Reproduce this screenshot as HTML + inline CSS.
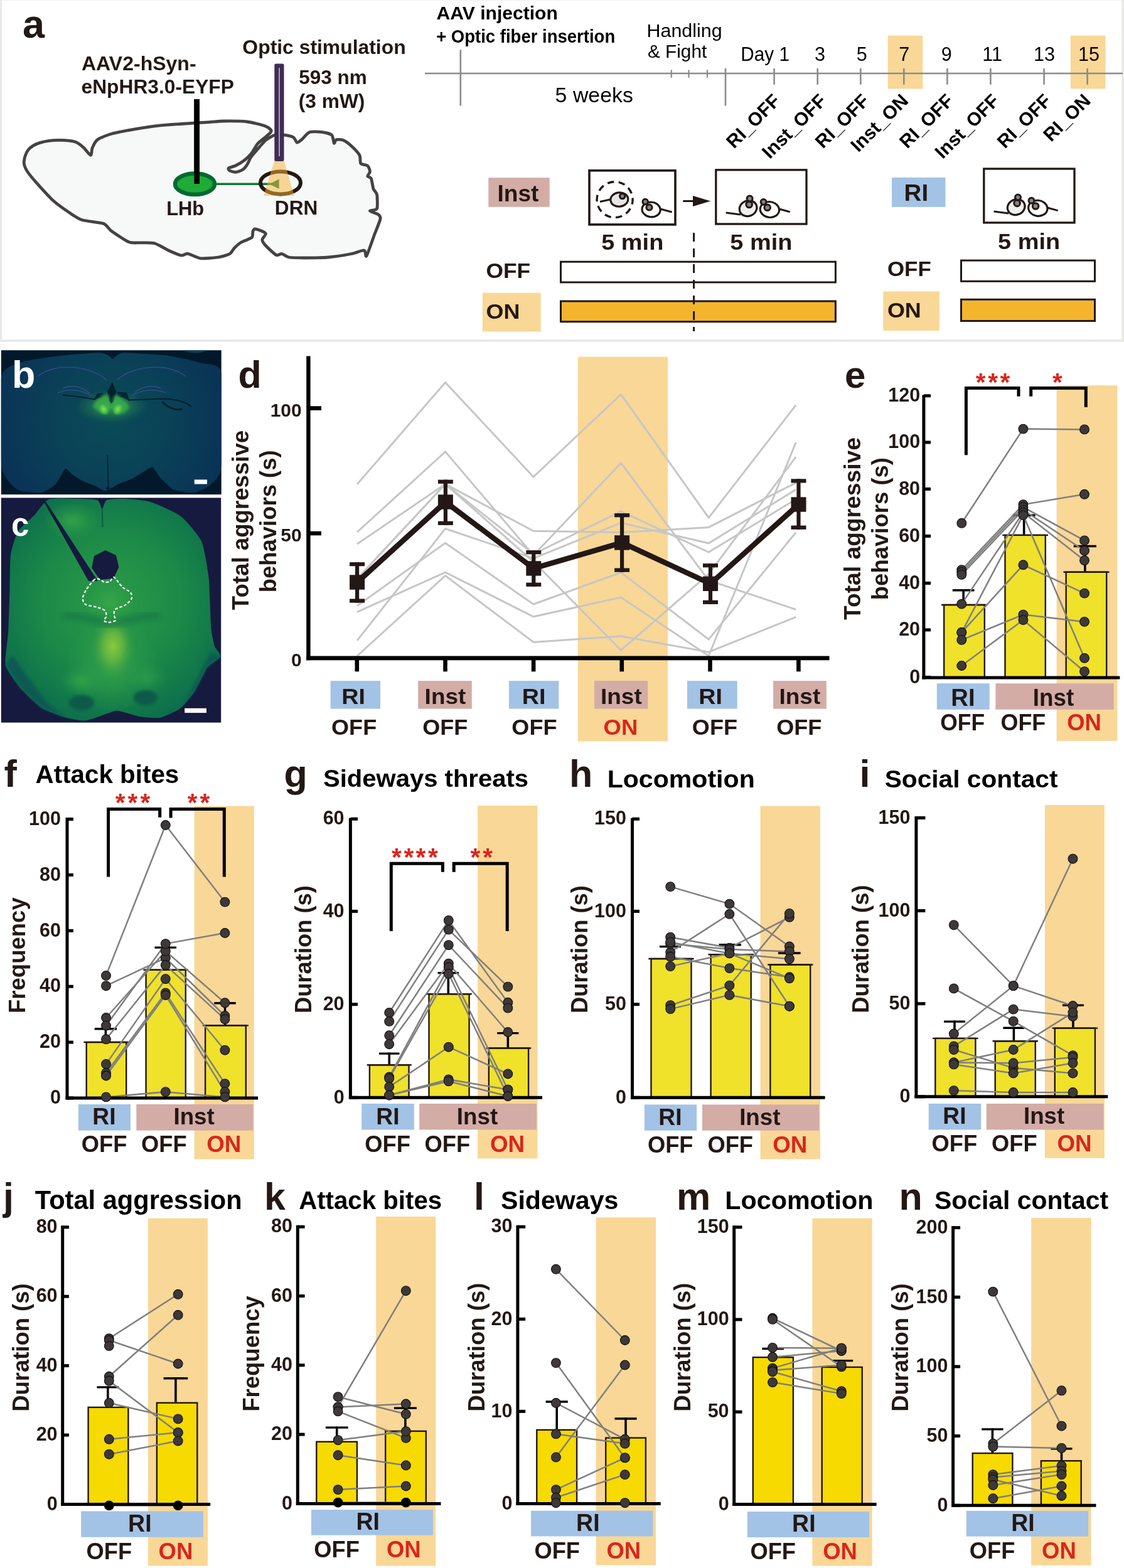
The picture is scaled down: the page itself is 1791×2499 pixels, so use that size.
<!DOCTYPE html>
<html><head><meta charset="utf-8"><title>Figure</title>
<style>html,body{margin:0;padding:0;background:#fff;}svg{display:block;}
text{font-family:"Liberation Sans",Arial,Helvetica,sans-serif;}</style></head>
<body><svg width="1791" height="2499" viewBox="0 0 1791 2499">
<rect x="0" y="0" width="1791" height="1" fill="#efefef"/>
<rect x="0" y="0" width="3" height="544.8" fill="#e8e8e6"/>
<rect x="1787.3" y="0" width="3.7" height="544.8" fill="#e9e9e7"/>
<rect x="0" y="541.2" width="1791" height="3.6" fill="#e8e8e6"/>
<text x="36" y="60" font-size="63" font-weight="bold" fill="#231815">a</text>
<path d="M38.3 257.5 C38.44 255.67 39.44 250.45 40.2 248.3 C40.96 246.15 43.4 240.93 44.8 239.1 C46.2 237.27 50.05 233.94 52.2 232.6 C54.35 231.26 60.19 228.57 63.2 227.6 C66.21 226.63 74.34 224.79 78 224.3 C81.66 223.81 90.73 223.4 94.6 223.4 C98.47 223.4 107.97 223.87 111.2 224.3 C114.43 224.73 119.71 225.81 122.3 227.1 C124.89 228.39 130.81 233.03 133.4 235.4 C135.99 237.77 142.89 247.4 144.5 247.4 C146.11 247.4 145.92 238.31 147.2 235.4 C148.48 232.5 151.94 225.09 155.5 222.5 C159.06 219.91 170.8 215.15 177.7 213.2 C184.59 211.25 205.99 207.31 214.6 205.8 C223.21 204.3 242.88 201.27 251.5 200.3 C260.12 199.33 279.34 198.14 288.5 197.5 C297.66 196.86 322.01 195.33 330 194.8 C337.99 194.28 349.56 193.09 357 193 C364.44 192.91 386.28 193.12 393.8 194 C401.32 194.88 417.08 198.98 421.5 200.5 C425.92 202.02 430.62 205.72 431.7 207 C432.78 208.28 431.77 210.22 430.8 211.5 C429.83 212.78 425.77 215.96 423.4 218 C421.03 220.04 413.09 225.99 410.5 229 C407.91 232.01 403.59 240.77 401.2 243.8 C398.81 246.83 393.01 252.64 390 255 C386.99 257.36 378.4 262.51 375.4 264 C372.4 265.49 365.4 266.87 364.3 267.8 C363.2 268.73 364.7 271.24 366 272 C367.3 272.76 373.01 274.46 375.4 274.3 C377.79 274.14 384.35 272 386.5 270.6 C388.65 269.2 392.3 264.56 393.8 262.3 C395.31 260.04 397.88 253.57 399.4 251.2 C400.92 248.83 404 245.23 406.8 242 C409.6 238.77 419.76 226.63 423.4 223.5 C427.04 220.37 434.55 216.17 438 215.2 C441.45 214.23 449.54 214.76 453 215.2 C456.46 215.64 465.34 217.6 467.7 219 C470.06 220.4 471.69 226.78 473.2 227.2 C474.7 227.62 478.23 224.54 480.6 222.6 C482.97 220.66 489.63 212 493.5 210.6 C497.37 209.2 509.7 210.06 513.8 210.6 C517.89 211.14 526.44 213.15 528.6 215.2 C530.76 217.25 531.44 227.34 532.3 228.2 C533.16 229.06 534.28 223.15 536 222.6 C537.72 222.05 544.2 222.31 547 223.5 C549.8 224.69 556.97 230 560 232.8 C563.03 235.6 571.27 244.27 573 247.5 C574.73 250.73 573.31 258.55 574.8 260.5 C576.29 262.45 584.08 262.69 585.8 264.2 C587.51 265.7 589.5 271.46 589.5 273.4 C589.5 275.34 585.58 279.5 585.8 280.8 C586.02 282.1 590.33 282.14 591.4 284.5 C592.47 286.86 593.93 297.99 595 301 C596.07 304.01 599.95 306.62 600.6 310.3 C601.25 313.98 601.89 329.48 600.6 332.5 C599.31 335.52 589.28 335.13 589.5 336.2 C589.72 337.27 600.58 340.21 602.5 341.7 C604.42 343.19 606.64 345.35 606 349 C605.36 352.65 599.57 366.12 597 373 C594.43 379.88 585.95 404.97 584 408 C582.05 411.03 583.1 399.41 580.3 399 C577.5 398.59 566.68 403.22 560 404.5 C553.32 405.78 531.63 409.24 523 410 C514.37 410.76 493.31 411 486 411 C478.69 411 464.59 410.76 460.3 410 C456.01 409.24 451.57 404.93 449.2 404.5 C446.83 404.07 443.01 407.82 440 406.3 C436.99 404.78 425.99 394.3 423.4 391.5 C420.81 388.7 417.8 384.46 417.8 382.3 C417.8 380.14 423.18 374.5 423.4 373 C423.62 371.5 421.64 370.36 419.7 369.4 C417.76 368.44 408.75 364.91 406.8 364.8 C404.85 364.69 403.65 366.89 403 368.5 C402.35 370.11 403.35 376.56 401.2 378.6 C399.05 380.64 387.83 384.06 384.6 386 C381.37 387.94 375.65 393.04 373.5 395.2 C371.35 397.36 369.21 402.77 366.2 404.5 C363.19 406.23 353.09 409.15 347.7 410 C342.31 410.85 325.62 412.47 320 411.8 C314.38 411.13 303.18 404.86 299.5 404.3 C295.82 403.74 291.94 407.54 288.5 407 C285.06 406.46 274.96 401.95 270 399.7 C265.04 397.45 251.39 389.2 246 387.7 C240.61 386.19 228.54 387.02 223.8 386.8 C219.06 386.58 210.78 387.96 205.4 385.8 C200.02 383.64 182.44 371.74 177.7 368.3 C172.96 364.86 170.19 358.34 164.8 356.3 C159.41 354.26 137.54 352.63 131.5 350.8 C125.46 348.97 118.38 344.16 113 340.6 C107.62 337.04 91.85 326.11 85.4 320.3 C78.95 314.49 62.53 296.2 57.7 290.8 C52.87 285.4 46.18 277.13 44 274 C41.82 270.87 39.66 265.93 39 264 C38.34 262.07 38.16 259.33 38.3 257.5 Z" fill="#f7f8f8" stroke="#454342" stroke-width="4.8" stroke-linejoin="round"/>
<rect x="309.4" y="158" width="8.6" height="135" fill="#000"/>
<ellipse cx="310.5" cy="293.3" rx="31.5" ry="16.8" fill="#1fab37" stroke="#006a30" stroke-width="6.5"/>
<rect x="309.4" y="158" width="8.6" height="135" fill="#000"/>
<line x1="344" y1="293.3" x2="437" y2="293.3" stroke="#0c7a3a" stroke-width="3.6"/>
<path d="M429 293.3 L444.6 285.6 L444.6 301 Z" fill="#0c7a3a" stroke="none" stroke-width="1"/>
<ellipse cx="447" cy="291.4" rx="32" ry="18" fill="none" stroke="#231815" stroke-width="6"/>
<path d="M437.3 256 L452.5 256 L469 312 L420 312 Z" fill="#f5b43c" stroke="none" stroke-width="1" opacity="0.52"/>
<rect x="437.3" y="101.4" width="15.2" height="155.6" rx="2.5" fill="#3f2c56"/>
<line x1="445" y1="108" x2="445" y2="249" stroke="#c3bfc8" stroke-width="1.6"/>
<text x="130.01" y="112.2" font-size="31" font-weight="bold" fill="#231815" textLength="182.55" lengthAdjust="spacingAndGlyphs">AAV2-hSyn-</text>
<text x="129.56" y="148.6" font-size="31" font-weight="bold" fill="#231815" textLength="243.32" lengthAdjust="spacingAndGlyphs">eNpHR3.0-EYFP</text>
<text x="386.39" y="86.2" font-size="31" font-weight="bold" fill="#231815" textLength="260.28" lengthAdjust="spacingAndGlyphs">Optic stimulation</text>
<text x="476.33" y="134.4" font-size="31" font-weight="bold" fill="#231815" textLength="108.42" lengthAdjust="spacingAndGlyphs">593 nm</text>
<text x="475.72" y="172" font-size="31" font-weight="bold" fill="#231815" textLength="105.66" lengthAdjust="spacingAndGlyphs">(3 mW)</text>
<text x="265.13" y="343.4" font-size="32" font-weight="bold" fill="#231815" textLength="60.14" lengthAdjust="spacingAndGlyphs">LHb</text>
<text x="437.89" y="341.7" font-size="31.5" font-weight="bold" fill="#231815" textLength="68.44" lengthAdjust="spacingAndGlyphs">DRN</text>
<rect x="1414.7" y="56.7" width="55.6" height="84.8" fill="#f9d796"/>
<rect x="1705.8" y="56.7" width="55.6" height="84.8" fill="#f9d796"/>
<line x1="677" y1="117" x2="1789" y2="117" stroke="#8a8a8a" stroke-width="2.6"/>
<line x1="733.8" y1="79.4" x2="733.8" y2="168.6" stroke="#8a8a8a" stroke-width="2.6"/>
<line x1="1069.8" y1="111.4" x2="1069.8" y2="123.7" stroke="#8a8a8a" stroke-width="2.2"/>
<line x1="1097.5" y1="111.4" x2="1097.5" y2="123.7" stroke="#8a8a8a" stroke-width="2.2"/>
<line x1="1127" y1="111.4" x2="1127" y2="123.7" stroke="#8a8a8a" stroke-width="2.2"/>
<line x1="1156" y1="109" x2="1156" y2="168.6" stroke="#8a8a8a" stroke-width="2.6"/>
<line x1="1233.6" y1="109" x2="1233.6" y2="134.8" stroke="#8a8a8a" stroke-width="2.6"/>
<line x1="1302.7" y1="109" x2="1302.7" y2="134.8" stroke="#8a8a8a" stroke-width="2.6"/>
<line x1="1371.3" y1="109" x2="1371.3" y2="134.8" stroke="#8a8a8a" stroke-width="2.6"/>
<line x1="1440.3" y1="109" x2="1440.3" y2="134.8" stroke="#8a8a8a" stroke-width="2.6"/>
<line x1="1509.4" y1="109" x2="1509.4" y2="134.8" stroke="#8a8a8a" stroke-width="2.6"/>
<line x1="1578.4" y1="109" x2="1578.4" y2="134.8" stroke="#8a8a8a" stroke-width="2.6"/>
<line x1="1663.6" y1="109" x2="1663.6" y2="134.8" stroke="#8a8a8a" stroke-width="2.6"/>
<line x1="1732.6" y1="109" x2="1732.6" y2="134.8" stroke="#8a8a8a" stroke-width="2.6"/>
<g fill="#000">
<text x="695.56" y="31.4" font-size="28.6" font-weight="bold" fill="#000" textLength="193.28" lengthAdjust="spacingAndGlyphs">AAV injection</text>
<text x="695.14" y="68.3" font-size="28.6" font-weight="bold" fill="#000" textLength="285.06" lengthAdjust="spacingAndGlyphs">+ Optic fiber insertion</text>
</g>
<text x="1030.51" y="59.4" font-size="29" fill="#000" textLength="120.06" lengthAdjust="spacingAndGlyphs">Handling</text>
<text x="1031.95" y="92.3" font-size="29" fill="#000" textLength="94.26" lengthAdjust="spacingAndGlyphs">&amp; Fight</text>
<text x="884.64" y="162.5" font-size="33" fill="#000" textLength="124.28" lengthAdjust="spacingAndGlyphs">5 weeks</text>
<text x="1180.26" y="97.3" font-size="30.5" fill="#000" textLength="77.69" lengthAdjust="spacingAndGlyphs">Day 1</text>
<text x="1306.6" y="97.3" font-size="30.5" fill="#000" text-anchor="middle">3</text>
<text x="1373.3" y="97.3" font-size="30.5" fill="#000" text-anchor="middle">5</text>
<text x="1440.7" y="97.3" font-size="30.5" fill="#000" text-anchor="middle">7</text>
<text x="1508.2" y="97.3" font-size="30.5" fill="#000" text-anchor="middle">9</text>
<text x="1581.2" y="97.3" font-size="30.5" fill="#000" text-anchor="middle">11</text>
<text x="1664" y="97.3" font-size="30.5" fill="#000" text-anchor="middle">13</text>
<text x="1735" y="97.3" font-size="30.5" fill="#000" text-anchor="middle">15</text>
<text x="1245" y="162.5" font-size="30" font-weight="bold" fill="#000" text-anchor="end" transform="rotate(-45 1245 162.5)">RI_OFF</text>
<text x="1318.5" y="162.5" font-size="30" font-weight="bold" fill="#000" text-anchor="end" transform="rotate(-45 1318.5 162.5)">Inst_OFF</text>
<text x="1386.8" y="162.5" font-size="30" font-weight="bold" fill="#000" text-anchor="end" transform="rotate(-45 1386.8 162.5)">RI_OFF</text>
<text x="1449" y="162.5" font-size="30" font-weight="bold" fill="#000" text-anchor="end" transform="rotate(-45 1449 162.5)">Inst_ON</text>
<text x="1521" y="162.5" font-size="30" font-weight="bold" fill="#000" text-anchor="end" transform="rotate(-45 1521 162.5)">RI_OFF</text>
<text x="1594" y="162.5" font-size="30" font-weight="bold" fill="#000" text-anchor="end" transform="rotate(-45 1594 162.5)">Inst_OFF</text>
<text x="1676.7" y="162.5" font-size="30" font-weight="bold" fill="#000" text-anchor="end" transform="rotate(-45 1676.7 162.5)">RI_OFF</text>
<text x="1739.5" y="162.5" font-size="30" font-weight="bold" fill="#000" text-anchor="end" transform="rotate(-45 1739.5 162.5)">RI_ON</text>
<rect x="778.3" y="283.2" width="97.4" height="46.6" fill="#d3aca6"/>
<text x="792.42" y="320.5" font-size="37.8" font-weight="bold" fill="#231815" textLength="66.04" lengthAdjust="spacingAndGlyphs">Inst</text>
<rect x="1421" y="282.9" width="85.5" height="47" fill="#a2c3e5"/>
<text x="1440.62" y="319.8" font-size="36" font-weight="bold" fill="#231815" textLength="38.56" lengthAdjust="spacingAndGlyphs">RI</text>
<rect x="939" y="271.8" width="137" height="86.1" fill="#fff" stroke="#231815" stroke-width="3.6"/>
<circle cx="979.6" cy="318.2" r="28.5" fill="none" stroke="#231815" stroke-width="3.4" stroke-dasharray="10.5 7.4" stroke-dashoffset="3"/>
<line x1="956" y1="321.5" x2="972" y2="318" stroke="#231815" stroke-width="3"/>
<ellipse cx="986.8" cy="318" rx="14" ry="11.2" fill="#e6e6e6" stroke="#231815" stroke-width="3.2" transform="rotate(-6 986.8 318)"/>
<circle cx="991.7" cy="312.6" r="4.2" fill="#858585" stroke="#231815" stroke-width="3"/>
<line x1="1052" y1="333" x2="1070.6" y2="338" stroke="#231815" stroke-width="3"/>
<ellipse cx="1037.6" cy="334" rx="14.6" ry="11.8" fill="#fff" stroke="#231815" stroke-width="3.2" transform="rotate(6 1037.6 334)"/>
<circle cx="1028.2" cy="321.5" r="4.2" fill="#858585" stroke="#231815" stroke-width="3"/>
<circle cx="1034.5" cy="330.5" r="4.6" fill="#858585" stroke="#231815" stroke-width="3"/>
<line x1="1088.3" y1="320.5" x2="1108" y2="320.5" stroke="#231815" stroke-width="3"/>
<path d="M1132.2 320.5 L1104 312 L1104 329 Z" fill="#231815" stroke="none" stroke-width="1"/>
<rect x="1140.8" y="270.8" width="144.2" height="86.2" fill="#fff" stroke="#231815" stroke-width="3.3"/>
<line x1="1156.7" y1="339.1" x2="1180" y2="342" stroke="#231815" stroke-width="3"/>
<ellipse cx="1192.1" cy="332.1" rx="14.1" ry="12.2" fill="#eef0ef" stroke="#231815" stroke-width="3.2" transform="rotate(-22 1192.1 332.1)"/>
<circle cx="1194.6" cy="316.6" r="4.5" fill="#858585" stroke="#231815" stroke-width="3"/>
<circle cx="1193.7" cy="326" r="4.8" fill="#858585" stroke="#231815" stroke-width="3"/>
<line x1="1241.5" y1="333" x2="1258.7" y2="337.7" stroke="#231815" stroke-width="3"/>
<ellipse cx="1226.4" cy="334" rx="15.2" ry="12.4" fill="#fff" stroke="#231815" stroke-width="3.2" transform="rotate(8 1226.4 334)"/>
<circle cx="1216.6" cy="321.8" r="4.4" fill="#858585" stroke="#231815" stroke-width="3"/>
<circle cx="1222.7" cy="330.7" r="4.8" fill="#858585" stroke="#231815" stroke-width="3"/>
<rect x="1567.8" y="269" width="144.2" height="85.9" fill="#fff" stroke="#231815" stroke-width="3.3"/>
<line x1="1583.6" y1="337" x2="1607" y2="340" stroke="#231815" stroke-width="3"/>
<ellipse cx="1619.2" cy="330" rx="14.1" ry="12.2" fill="#eef0ef" stroke="#231815" stroke-width="3.2" transform="rotate(-22 1619.2 330)"/>
<circle cx="1622" cy="314.5" r="4.5" fill="#858585" stroke="#231815" stroke-width="3"/>
<circle cx="1620.6" cy="323.9" r="4.8" fill="#858585" stroke="#231815" stroke-width="3"/>
<line x1="1669" y1="331" x2="1685.6" y2="335.6" stroke="#231815" stroke-width="3"/>
<ellipse cx="1653.8" cy="331.8" rx="15.2" ry="12.4" fill="#fff" stroke="#231815" stroke-width="3.2" transform="rotate(8 1653.8 331.8)"/>
<circle cx="1643.5" cy="319.7" r="4.4" fill="#858585" stroke="#231815" stroke-width="3"/>
<circle cx="1650.1" cy="328.5" r="4.8" fill="#858585" stroke="#231815" stroke-width="3"/>
<text x="958.23" y="397.9" font-size="35" font-weight="bold" fill="#231815" textLength="99.12" lengthAdjust="spacingAndGlyphs">5 min</text>
<text x="1163.33" y="397.9" font-size="35" font-weight="bold" fill="#231815" textLength="99.22" lengthAdjust="spacingAndGlyphs">5 min</text>
<text x="1590.03" y="396.7" font-size="35" font-weight="bold" fill="#231815" textLength="99.12" lengthAdjust="spacingAndGlyphs">5 min</text>
<text x="774.55" y="442.8" font-size="33.5" font-weight="bold" fill="#231815" textLength="70.64" lengthAdjust="spacingAndGlyphs">OFF</text>
<rect x="768.9" y="466.7" width="92.8" height="61.8" fill="#f9d796"/>
<text x="774.53" y="507.8" font-size="33.5" font-weight="bold" fill="#231815" textLength="53.89" lengthAdjust="spacingAndGlyphs">ON</text>
<rect x="893.5" y="417.2" width="437.9" height="32.7" fill="#fff" stroke="#231815" stroke-width="3"/>
<rect x="893.5" y="480" width="437.9" height="32.7" fill="#f4b52d" stroke="#231815" stroke-width="3"/>
<text x="1413.97" y="440.2" font-size="33.5" font-weight="bold" fill="#231815" textLength="69.71" lengthAdjust="spacingAndGlyphs">OFF</text>
<rect x="1407.3" y="464.5" width="89.5" height="62.5" fill="#f9d796"/>
<text x="1413.93" y="506" font-size="33.5" font-weight="bold" fill="#231815" textLength="53.89" lengthAdjust="spacingAndGlyphs">ON</text>
<rect x="1531.5" y="415.1" width="213" height="33.2" fill="#fff" stroke="#231815" stroke-width="3"/>
<rect x="1531.5" y="477.3" width="213" height="34.2" fill="#f4b52d" stroke="#231815" stroke-width="3"/>
<line x1="1105.6" y1="371" x2="1105.6" y2="528" stroke="#231815" stroke-width="3" stroke-dasharray="14 11"/>
<defs>
<filter id="blur2" x="-20%" y="-20%" width="140%" height="140%"><feGaussianBlur stdDeviation="2"/></filter>
<filter id="blur4" x="-30%" y="-30%" width="160%" height="160%"><feGaussianBlur stdDeviation="4"/></filter>
<filter id="blur8" x="-40%" y="-40%" width="180%" height="180%"><feGaussianBlur stdDeviation="8"/></filter>
<clipPath id="clipb"><rect x="1.8" y="558.2" width="350.9" height="229.9"/></clipPath>
<clipPath id="clipc"><rect x="1.8" y="793.4" width="350.4" height="358.2"/></clipPath>
<radialGradient id="gb2" cx="178" cy="670" r="190" gradientUnits="userSpaceOnUse">
<stop offset="0" stop-color="#0b4b57"/><stop offset="0.55" stop-color="#0a4057"/><stop offset="1" stop-color="#0a3256"/></radialGradient>
<radialGradient id="gbglow" cx="178" cy="648" r="60" gradientUnits="userSpaceOnUse" gradientTransform="translate(178 648) scale(1 0.45) translate(-178 -648)">
<stop offset="0" stop-color="#3fb04a" stop-opacity="0.9"/><stop offset="0.5" stop-color="#2a8a4e" stop-opacity="0.55"/><stop offset="1" stop-color="#1a6a55" stop-opacity="0"/></radialGradient>
<radialGradient id="gblobe" cx="0.5" cy="0.6" r="0.5">
<stop offset="0" stop-color="#7ae64a"/><stop offset="0.5" stop-color="#52c84a" stop-opacity="0.85"/><stop offset="1" stop-color="#2a9a4e" stop-opacity="0"/></radialGradient>
<radialGradient id="gc2" cx="178" cy="960" r="200" gradientUnits="userSpaceOnUse">
<stop offset="0" stop-color="#2c9c46"/><stop offset="0.55" stop-color="#1c8a48"/><stop offset="1" stop-color="#0c6e4c"/></radialGradient>
<radialGradient id="gc1" cx="0.5" cy="0.5" r="0.5">
<stop offset="0" stop-color="#90cc3c"/><stop offset="0.45" stop-color="#6ab840" stop-opacity="0.8"/><stop offset="1" stop-color="#2a9646" stop-opacity="0"/></radialGradient>
<radialGradient id="gc3" cx="0.5" cy="0.5" r="0.5">
<stop offset="0" stop-color="#3aa84a" stop-opacity="0.9"/><stop offset="1" stop-color="#2a9a48" stop-opacity="0"/></radialGradient>
</defs>
<rect x="1.8" y="558.2" width="350.9" height="229.9" fill="#03192b"/>
<g clip-path="url(#clipb)">
<path d="M1.8 601 C4.92 584.77 24.32 581.03 33 577.7 C41.68 574.37 76.4 569.25 88.6 567.7 C100.8 566.15 146.66 562.37 155 562.2 C163.34 562.03 169.56 565.02 172 566 C174.44 566.98 177.9 572 179.4 572 C180.9 572 185 566.98 187 566 C189 565.02 191.52 562.14 199.4 562.2 C207.28 562.26 253.62 564.94 265.8 566.6 C277.98 568.26 312.51 576.03 321.2 578.8 C329.89 581.57 349.55 577.91 352.7 594.3 C355.85 610.69 354.3 724.98 352.7 742.7 C351.1 760.42 340.96 767.29 336.7 771.5 C332.44 775.71 316.08 783.91 310.1 784.8 C304.12 785.69 282.43 782.83 276.9 780.4 C271.37 777.97 258.12 764.04 254.8 760.5 C251.48 756.96 245.92 746.11 243.7 745 C241.48 743.89 235.92 747.63 232.6 749.4 C229.28 751.17 214.93 760.49 210.5 762.7 C206.07 764.91 192.51 769.51 188.3 771.5 C184.09 773.49 171.73 782.15 168.4 782.6 C165.07 783.05 158.55 777.55 155 776 C151.45 774.45 136.88 769.1 132.9 767.1 C128.92 765.1 118.08 757.99 115.2 756 C112.32 754.01 106.76 745.65 104.1 747.2 C101.44 748.75 92.36 767.74 88.6 771.5 C84.84 775.26 72.04 783.69 66.5 784.8 C60.96 785.91 38.08 783.93 33.2 782.6 C28.32 781.27 20.84 775.76 17.7 771.5 C14.56 767.24 3.39 757.05 1.8 740 C0.21 722.95 -1.32 617.23 1.8 601 Z" fill="url(#gb2)"/>
<path d="M292 558.2 C300 563 322 564 330 558.2 Z" fill="#0b4256"/>
<path d="M100 618.7 C115 612 132 617 142.3 626.6" fill="none" stroke="#3d4f96" stroke-width="1.6" opacity="0.75"/>
<path d="M92 626 C112 618 130 622 146 630" fill="none" stroke="#3d4f96" stroke-width="1.6" opacity="0.75"/>
<path d="M256 618.7 C241 612 224 617 213.7 626.6" fill="none" stroke="#3d4f96" stroke-width="1.6" opacity="0.75"/>
<path d="M264 626 C244 618 226 622 210 630" fill="none" stroke="#3d4f96" stroke-width="1.6" opacity="0.75"/>
<path d="M60 600 C90 575 150 585 170 606" fill="none" stroke="#3d4f96" stroke-width="1.6" opacity="0.75"/>
<path d="M296 600 C266 575 206 585 186 606" fill="none" stroke="#3d4f96" stroke-width="1.6" opacity="0.75"/>
<ellipse cx="178" cy="648" rx="64" ry="30" fill="url(#gbglow)" filter="url(#blur2)"/>
<path d="M170.9 624.6 L178.8 608.9 L185.7 624.6 L181 640 L176.8 643.3 L174 638 Z" fill="#04202c"/>
<path d="M149 637.4 L155 627.6 L168 625.6 L171 631 L160 634 Z" fill="#052030" opacity="0.9"/>
<path d="M207 638.4 L202 625.6 L187 624.6 L185 631 L196 634 Z" fill="#052030" opacity="0.9"/>
<path d="M100 629.5 C120 631 135 634 152 636.4" fill="none" stroke="#04202e" stroke-width="2"/>
<path d="M204 637.4 C225 637 245 636 262 635.4 C280 636 295 640 305 648" fill="none" stroke="#04202e" stroke-width="2"/>
<path d="M258 640 C268 650 280 655 290 652" fill="none" stroke="#04202e" stroke-width="3"/>
<path d="M152 640 L168 626 L174 632 L176 648 L172 659 L160 658 L148 648 Z" fill="#3fb44a" opacity="0.75" filter="url(#blur2)"/>
<path d="M202 642 L186 628 L180 634 L179 648 L184 660 L196 659 L206 650 Z" fill="#3fb44a" opacity="0.75" filter="url(#blur2)"/>
<ellipse cx="164" cy="650" rx="9" ry="12" fill="url(#gblobe)" transform="rotate(-30 164 650)"/>
<ellipse cx="189" cy="650" rx="9" ry="12" fill="url(#gblobe)" transform="rotate(30 189 650)"/>
<path d="M170.5 725 L172 780 L173.5 780 L172 725 Z" fill="#061f30"/>
<circle cx="172" cy="778" r="3" fill="#061f30"/>
</g>
<rect x="309.7" y="764.4" width="20.3" height="7.1" fill="#fff"/>
<text x="19" y="617.6" font-size="61" font-weight="bold" fill="#fff">b</text>
<rect x="1.8" y="793.4" width="350.4" height="358.2" fill="#161a3e"/>
<g clip-path="url(#clipc)">
<path d="M77.5 796 C83.96 793.46 112.25 794.9 120 795 C127.75 795.1 150.72 795.34 155 797 C159.28 798.66 161.3 811.6 162.8 811.6 C164.3 811.6 166.28 798.66 170 797 C173.72 795.34 193 794.7 200 795 C207 795.3 231.2 797.23 240 800 C248.8 802.77 279.9 816.45 288 822.7 C296.1 828.95 316.57 852.97 321 862.5 C325.43 872.03 330.95 908.25 332.3 918 C333.65 927.75 334.06 951.37 334.5 960 C334.94 968.63 335.95 997.3 336.7 1004.3 C337.45 1011.3 340.56 1025.79 342 1030 C343.44 1034.21 352.3 1042.99 351.1 1046.4 C349.9 1049.81 334.1 1058.56 330 1064.1 C325.9 1069.64 314.3 1095.37 310.1 1101.8 C305.9 1108.23 293.53 1124.19 288 1128.4 C282.47 1132.61 261.45 1142.57 254.8 1143.9 C248.15 1145.23 228.15 1142.81 221.5 1141.7 C214.85 1140.59 192.73 1133.47 188.3 1132.8 C183.87 1132.13 182.29 1133.45 177.2 1135 C172.11 1136.55 144.49 1147.41 137.4 1148.3 C130.31 1149.19 113.39 1145.89 106.3 1143.9 C99.21 1141.91 73.81 1133.06 66.5 1128.4 C59.19 1123.74 38.96 1104.17 33.2 1097.3 C27.44 1090.43 10.89 1068.78 8.9 1059.7 C6.91 1050.62 12.64 1018.47 13.3 1006.5 C13.96 994.53 15.13 952.18 15.5 940 C15.87 927.82 15.67 894 17 884.7 C18.33 875.4 24.96 853.43 28.8 847 C32.64 840.57 50.53 825.5 55.4 820.4 C60.27 815.3 71.04 798.54 77.5 796 Z" fill="url(#gc2)"/>
<path d="M8.9 1059.7 L20 1045 L45 1080 L75 1120 L106 1144 L66.5 1128.4 L33.2 1097.3 Z" fill="#0c5a52" filter="url(#blur2)"/>
<path d="M351 1046 L335 1040 L318 1075 L295 1118 L288 1128 L310 1102 L330 1064 Z" fill="#0c5a52" filter="url(#blur2)"/>
<ellipse cx="115" cy="830" rx="45" ry="30" fill="url(#gc3)" filter="url(#blur4)"/>
<ellipse cx="176" cy="960" rx="40" ry="35" fill="url(#gc3)" filter="url(#blur4)"/>
<ellipse cx="130" cy="1085" rx="35" ry="25" fill="url(#gc3)" filter="url(#blur4)"/>
<ellipse cx="235" cy="1080" rx="35" ry="25" fill="url(#gc3)" filter="url(#blur4)" opacity="0.7"/>
<ellipse cx="178" cy="1060" rx="75" ry="80" fill="url(#gc3)" filter="url(#blur4)"/>
<ellipse cx="180" cy="1030" rx="36" ry="52" fill="url(#gc1)" filter="url(#blur2)"/>
<path d="M100 980 C135 983 160 990 176 996 C195 990 220 983 255 980" fill="none" stroke="#0f6a48" stroke-width="13" opacity="0.45" filter="url(#blur4)"/>
<ellipse cx="130" cy="1120" rx="20" ry="12" fill="#0b5a48" filter="url(#blur2)"/>
<ellipse cx="232" cy="1112" rx="19" ry="12" fill="#0b5a48" filter="url(#blur2)"/>
<path d="M70 800 L73.5 800 L156 926 L141 926 Z" fill="#161a3e" stroke="none" stroke-width="1"/>
<path d="M168 877 L185 885 L189.4 904 L181 922 L159 924 L146.2 905 L150 886 Z" fill="#161a3e" stroke="none" stroke-width="1"/>
<path d="M162.8 811.6 L163.5 840" stroke="#0d5a48" stroke-width="2"/>
</g>
<path d="M150.6 923.5 C147.65 925.7 139.91 936.01 137.4 940 C134.89 943.99 131.96 950.29 131.8 953.4 C131.64 956.51 133.11 961.38 136.2 963.3 C139.29 965.22 150.85 966.47 155 967.8 C159.15 969.13 165.37 971.38 167.3 973.3 C169.23 975.22 169.71 980.13 169.5 982.2 C169.29 984.27 165.26 987.48 165.7 988.8 C166.14 990.12 170.37 992.1 172.8 992.1 C175.23 992.1 182.71 990.41 183.9 988.8 C185.09 987.19 181.7 982.37 181.7 980 C181.7 977.63 181.54 973.08 183.9 971 C186.26 968.92 196 966.6 199.4 964.4 C202.8 962.2 208.23 957.15 209.4 954.5 C210.57 951.85 210.12 947.02 208.2 944.5 C206.28 941.98 198.53 938.85 195 935.6 C191.47 932.35 184.37 921.27 181.7 920.1 C179.03 918.93 177.07 925.76 175 926.8 C172.93 927.84 168.27 928.34 166.2 927.9 C164.13 927.46 161.58 924.09 159.5 923.5 C157.42 922.91 153.55 921.3 150.6 923.5 Z" fill="none" stroke="#fff" stroke-width="2.2" stroke-dasharray="4.5 3"/>
<rect x="294.2" y="1128.8" width="34.8" height="7.3" fill="#fff"/>
<text x="18" y="853.7" font-size="51" font-weight="bold" fill="#fff">c</text>
<rect x="920.8" y="568.6" width="143.2" height="612.8" fill="#f9d796"/>
<text x="379.5" y="617.8" font-size="61" font-weight="bold" fill="#231815">d</text>
<g fill="none" stroke="#c6c6c6" stroke-width="3" stroke-linejoin="miter">
<polyline points="569,771.8 709.6,609.4 850,760 989.5,628.4 1129.2,825.2 1268.2,645.6"/>
<polyline points="569,848.1 709.6,719.9 850,885 989.5,738 1129.2,925 1268.2,971.3"/>
<polyline points="569,867.1 709.6,771.6 850,846.2 989.5,848.5 1129.2,840.4 1268.2,769.4"/>
<polyline points="569,922.5 709.6,771.6 850,883 989.5,815 1129.2,880 1268.2,795.8"/>
<polyline points="569,965.5 709.6,865.4 850,963 989.5,912.4 1129.2,1019 1268.2,848.5"/>
<polyline points="569,975.4 709.6,912.1 850,982.8 989.5,952 1129.2,1045.3 1268.2,705.1"/>
<polyline points="569,1020.9 709.6,842.5 850,890 989.5,833.3 1129.2,865.8 1268.2,780.2"/>
<polyline points="569,1045.5 709.6,917.5 850,1023.4 989.5,1013.9 1129.2,1039.2 1268.2,983.4"/>
<polyline points="569,922.5 709.6,771.6 850,895 989.5,1036.2 1129.2,915 1268.2,728.2"/>
</g>
<line x1="491.4" y1="567.4" x2="491.4" y2="1052.3" stroke="#000" stroke-width="6.4"/>
<line x1="488.2" y1="1048.9" x2="1321.5" y2="1048.9" stroke="#000" stroke-width="6.7"/>
<line x1="494" y1="650.6" x2="512" y2="650.6" stroke="#000" stroke-width="6.6"/>
<line x1="494" y1="850" x2="512" y2="850" stroke="#000" stroke-width="6.6"/>
<line x1="568.8" y1="1050" x2="568.8" y2="1070.3" stroke="#000" stroke-width="6.6"/>
<line x1="709.5" y1="1050" x2="709.5" y2="1070.3" stroke="#000" stroke-width="6.6"/>
<line x1="850.1" y1="1050" x2="850.1" y2="1070.3" stroke="#000" stroke-width="6.6"/>
<line x1="990.8" y1="1050" x2="990.8" y2="1070.3" stroke="#000" stroke-width="6.6"/>
<line x1="1131.5" y1="1050" x2="1131.5" y2="1070.3" stroke="#000" stroke-width="6.6"/>
<line x1="1272.4" y1="1050" x2="1272.4" y2="1070.3" stroke="#000" stroke-width="6.6"/>
<text x="480.7" y="663.6" font-size="30" font-weight="bold" fill="#231815" text-anchor="end">100</text>
<text x="480.7" y="863.2" font-size="30" font-weight="bold" fill="#231815" text-anchor="end">50</text>
<text x="480.7" y="1061.5" font-size="30" font-weight="bold" fill="#231815" text-anchor="end">0</text>
<text x="396" y="972.21" font-size="37.5" font-weight="bold" fill="#231815" textLength="286.45" lengthAdjust="spacingAndGlyphs" transform="rotate(-90 396 972.21)">Total aggressive</text>
<text x="439.7" y="944.2" font-size="37.5" font-weight="bold" fill="#231815" textLength="226.82" lengthAdjust="spacingAndGlyphs" transform="rotate(-90 439.7 944.2)">behaviors (s)</text>
<polyline points="569.1,928 709.9,800 850.3,905.9 991.1,864.9 1132,930.3 1272.5,804" fill="none" stroke="#231815" stroke-width="8.5" stroke-linejoin="miter"/>
<line x1="569.1" y1="896.1" x2="569.1" y2="960.6" stroke="#231815" stroke-width="6.2"/>
<rect x="557.1" y="896.1" width="24" height="6.2" fill="#231815"/>
<rect x="557.1" y="954.4" width="24" height="6.2" fill="#231815"/>
<rect x="557.1" y="916.3" width="24" height="23.4" fill="#231815"/>
<line x1="709.9" y1="764.6" x2="709.9" y2="836.9" stroke="#231815" stroke-width="6.2"/>
<rect x="697.9" y="764.6" width="24" height="6.2" fill="#231815"/>
<rect x="697.9" y="830.7" width="24" height="6.2" fill="#231815"/>
<rect x="697.9" y="788.3" width="24" height="23.4" fill="#231815"/>
<line x1="850.3" y1="877.1" x2="850.3" y2="934.8" stroke="#231815" stroke-width="6.2"/>
<rect x="838.3" y="877.1" width="24" height="6.2" fill="#231815"/>
<rect x="838.3" y="928.6" width="24" height="6.2" fill="#231815"/>
<rect x="838.3" y="894.2" width="24" height="23.4" fill="#231815"/>
<line x1="991.1" y1="818.1" x2="991.1" y2="911.7" stroke="#231815" stroke-width="6.2"/>
<rect x="979.1" y="818.1" width="24" height="6.2" fill="#231815"/>
<rect x="979.1" y="905.5" width="24" height="6.2" fill="#231815"/>
<rect x="979.1" y="853.2" width="24" height="23.4" fill="#231815"/>
<line x1="1132" y1="898.1" x2="1132" y2="962.9" stroke="#231815" stroke-width="6.2"/>
<rect x="1120" y="898.1" width="24" height="6.2" fill="#231815"/>
<rect x="1120" y="956.7" width="24" height="6.2" fill="#231815"/>
<rect x="1120" y="918.6" width="24" height="23.4" fill="#231815"/>
<line x1="1272.5" y1="763.3" x2="1272.5" y2="843.8" stroke="#231815" stroke-width="6.2"/>
<rect x="1260.5" y="763.3" width="24" height="6.2" fill="#231815"/>
<rect x="1260.5" y="837.6" width="24" height="6.2" fill="#231815"/>
<rect x="1260.5" y="792.3" width="24" height="23.4" fill="#231815"/>
<rect x="526.6" y="1085.1" width="79.4" height="44.5" fill="#a2c3e5"/>
<rect x="666.2" y="1085.1" width="85.6" height="44.5" fill="#d3aca6"/>
<rect x="810.9" y="1085.1" width="79.4" height="44.5" fill="#a2c3e5"/>
<rect x="947.1" y="1085.1" width="85.2" height="44.5" fill="#d3aca6"/>
<rect x="1095" y="1085.1" width="79.7" height="44.5" fill="#a2c3e5"/>
<rect x="1232.1" y="1085.1" width="84.7" height="44.5" fill="#d3aca6"/>
<text x="544.37" y="1121.5" font-size="35" font-weight="bold" fill="#231815" textLength="37.75" lengthAdjust="spacingAndGlyphs">RI</text>
<text x="676.63" y="1121.5" font-size="35" font-weight="bold" fill="#231815" textLength="65.72" lengthAdjust="spacingAndGlyphs">Inst</text>
<text x="831.67" y="1121.5" font-size="35" font-weight="bold" fill="#231815" textLength="37.75" lengthAdjust="spacingAndGlyphs">RI</text>
<text x="957.03" y="1121.5" font-size="35" font-weight="bold" fill="#231815" textLength="65.72" lengthAdjust="spacingAndGlyphs">Inst</text>
<text x="1113.17" y="1121.5" font-size="35" font-weight="bold" fill="#231815" textLength="37.75" lengthAdjust="spacingAndGlyphs">RI</text>
<text x="1241.53" y="1121.5" font-size="35" font-weight="bold" fill="#231815" textLength="65.72" lengthAdjust="spacingAndGlyphs">Inst</text>
<text x="528.02" y="1171.3" font-size="35" font-weight="bold" fill="#231815" textLength="72.2" lengthAdjust="spacingAndGlyphs">OFF</text>
<text x="673.22" y="1171.3" font-size="35" font-weight="bold" fill="#231815" textLength="72.2" lengthAdjust="spacingAndGlyphs">OFF</text>
<text x="815.32" y="1171.3" font-size="35" font-weight="bold" fill="#231815" textLength="72.2" lengthAdjust="spacingAndGlyphs">OFF</text>
<text x="961.5" y="1171.3" font-size="35" font-weight="bold" fill="#d9261c" textLength="54.76" lengthAdjust="spacingAndGlyphs">ON</text>
<text x="1102.82" y="1171.3" font-size="35" font-weight="bold" fill="#231815" textLength="72.2" lengthAdjust="spacingAndGlyphs">OFF</text>
<text x="1237.22" y="1171.3" font-size="35" font-weight="bold" fill="#231815" textLength="72.2" lengthAdjust="spacingAndGlyphs">OFF</text>
<rect x="1683.6" y="614.2" width="96.7" height="566.6" fill="#f9d796"/>
<text x="1346" y="618.3" font-size="60" font-weight="bold" fill="#231815">e</text>
<rect x="1504.2" y="964" width="64.6" height="115.9" fill="#f0e12b" stroke="#231815" stroke-width="2.4"/>
<line x1="1500" y1="964" x2="1573" y2="964" stroke="#231815" stroke-width="2.4"/>
<rect x="1601.5" y="852.9" width="64.3" height="227" fill="#f0e12b" stroke="#231815" stroke-width="2.4"/>
<line x1="1597.3" y1="852.9" x2="1670" y2="852.9" stroke="#231815" stroke-width="2.4"/>
<rect x="1698.7" y="911.8" width="64.5" height="168.1" fill="#f0e12b" stroke="#231815" stroke-width="2.4"/>
<line x1="1694.5" y1="911.8" x2="1767.4" y2="911.8" stroke="#231815" stroke-width="2.4"/>
<line x1="1535.15" y1="962.8" x2="1535.15" y2="939.2" stroke="#000" stroke-width="3.6"/>
<line x1="1517.8" y1="940.8" x2="1552.5" y2="940.8" stroke="#000" stroke-width="3.4"/>
<line x1="1631.65" y1="851.7" x2="1631.65" y2="819.7" stroke="#000" stroke-width="3.6"/>
<line x1="1613.6" y1="821.3" x2="1649.7" y2="821.3" stroke="#000" stroke-width="3.4"/>
<line x1="1728.85" y1="910.6" x2="1728.85" y2="868.9" stroke="#000" stroke-width="3.6"/>
<line x1="1710.8" y1="870.5" x2="1746.9" y2="870.5" stroke="#000" stroke-width="3.4"/>
<g fill="none" stroke="#7f7f7f" stroke-width="2.5">
<polyline points="1532.3,833.8 1630.4,683.6 1728,684.4"/>
<polyline points="1532.3,908.1 1630.4,804.1 1728,787.8"/>
<polyline points="1532.3,912 1630.4,808.3 1728,861.4"/>
<polyline points="1532.3,915.9 1630.4,812.6 1728,877.7"/>
<polyline points="1532.3,962.6 1630.4,816.8 1728,893.2"/>
<polyline points="1532.3,1007.9 1630.4,821 1728,1048.9"/>
<polyline points="1532.3,1007.9 1630.4,900.3 1728,945.6"/>
<polyline points="1532.3,1019.9 1630.4,979.6 1728,990.9"/>
<polyline points="1532.3,1061 1630.4,988.1 1728,1070.2"/>
</g>
<line x1="1471.9" y1="629.4" x2="1471.9" y2="1082.4" stroke="#000" stroke-width="5"/>
<line x1="1469.4" y1="1079.9" x2="1784.4" y2="1079.9" stroke="#000" stroke-width="5"/>
<line x1="1471.9" y1="630.8" x2="1483" y2="630.8" stroke="#000" stroke-width="5"/>
<text x="1466.1" y="640" font-size="30.5" font-weight="bold" fill="#231815" text-anchor="end">120</text>
<line x1="1471.9" y1="705" x2="1483" y2="705" stroke="#000" stroke-width="5"/>
<text x="1466.1" y="714.2" font-size="30.5" font-weight="bold" fill="#231815" text-anchor="end">100</text>
<line x1="1471.9" y1="779.4" x2="1483" y2="779.4" stroke="#000" stroke-width="5"/>
<text x="1466.1" y="788.6" font-size="30.5" font-weight="bold" fill="#231815" text-anchor="end">80</text>
<line x1="1471.9" y1="854.4" x2="1483" y2="854.4" stroke="#000" stroke-width="5"/>
<text x="1466.1" y="863.6" font-size="30.5" font-weight="bold" fill="#231815" text-anchor="end">60</text>
<line x1="1471.9" y1="929.4" x2="1483" y2="929.4" stroke="#000" stroke-width="5"/>
<text x="1466.1" y="938.6" font-size="30.5" font-weight="bold" fill="#231815" text-anchor="end">40</text>
<line x1="1471.9" y1="1003.9" x2="1483" y2="1003.9" stroke="#000" stroke-width="5"/>
<text x="1466.1" y="1013.1" font-size="30.5" font-weight="bold" fill="#231815" text-anchor="end">20</text>
<line x1="1471.9" y1="1079.4" x2="1483" y2="1079.4" stroke="#000" stroke-width="5"/>
<text x="1466.1" y="1088.6" font-size="30.5" font-weight="bold" fill="#231815" text-anchor="end">0</text>
<circle cx="1532.3" cy="833.8" r="7.4" fill="#3e3839" stroke="#111" stroke-width="1.1"/>
<circle cx="1630.4" cy="683.6" r="7.4" fill="#3e3839" stroke="#111" stroke-width="1.1"/>
<circle cx="1728" cy="684.4" r="7.4" fill="#3e3839" stroke="#111" stroke-width="1.1"/>
<circle cx="1532.3" cy="908.1" r="7.4" fill="#3e3839" stroke="#111" stroke-width="1.1"/>
<circle cx="1630.4" cy="804.1" r="7.4" fill="#3e3839" stroke="#111" stroke-width="1.1"/>
<circle cx="1728" cy="787.8" r="7.4" fill="#3e3839" stroke="#111" stroke-width="1.1"/>
<circle cx="1532.3" cy="912" r="7.4" fill="#3e3839" stroke="#111" stroke-width="1.1"/>
<circle cx="1630.4" cy="808.3" r="7.4" fill="#3e3839" stroke="#111" stroke-width="1.1"/>
<circle cx="1728" cy="861.4" r="7.4" fill="#3e3839" stroke="#111" stroke-width="1.1"/>
<circle cx="1532.3" cy="915.9" r="7.4" fill="#3e3839" stroke="#111" stroke-width="1.1"/>
<circle cx="1630.4" cy="812.6" r="7.4" fill="#3e3839" stroke="#111" stroke-width="1.1"/>
<circle cx="1728" cy="877.7" r="7.4" fill="#3e3839" stroke="#111" stroke-width="1.1"/>
<circle cx="1532.3" cy="962.6" r="7.4" fill="#3e3839" stroke="#111" stroke-width="1.1"/>
<circle cx="1630.4" cy="816.8" r="7.4" fill="#3e3839" stroke="#111" stroke-width="1.1"/>
<circle cx="1728" cy="893.2" r="7.4" fill="#3e3839" stroke="#111" stroke-width="1.1"/>
<circle cx="1532.3" cy="1007.9" r="7.4" fill="#3e3839" stroke="#111" stroke-width="1.1"/>
<circle cx="1630.4" cy="821" r="7.4" fill="#3e3839" stroke="#111" stroke-width="1.1"/>
<circle cx="1728" cy="1048.9" r="7.4" fill="#3e3839" stroke="#111" stroke-width="1.1"/>
<circle cx="1532.3" cy="1007.9" r="7.4" fill="#3e3839" stroke="#111" stroke-width="1.1"/>
<circle cx="1630.4" cy="900.3" r="7.4" fill="#3e3839" stroke="#111" stroke-width="1.1"/>
<circle cx="1728" cy="945.6" r="7.4" fill="#3e3839" stroke="#111" stroke-width="1.1"/>
<circle cx="1532.3" cy="1019.9" r="7.4" fill="#3e3839" stroke="#111" stroke-width="1.1"/>
<circle cx="1630.4" cy="979.6" r="7.4" fill="#3e3839" stroke="#111" stroke-width="1.1"/>
<circle cx="1728" cy="990.9" r="7.4" fill="#3e3839" stroke="#111" stroke-width="1.1"/>
<circle cx="1532.3" cy="1061" r="7.4" fill="#3e3839" stroke="#111" stroke-width="1.1"/>
<circle cx="1630.4" cy="988.1" r="7.4" fill="#3e3839" stroke="#111" stroke-width="1.1"/>
<circle cx="1728" cy="1070.2" r="7.4" fill="#3e3839" stroke="#111" stroke-width="1.1"/>
<path d="M1539.4 725.3 L1539.4 618.4 L1623 618.4 L1623 631.8" fill="none" stroke="#000" stroke-width="5" stroke-linejoin="miter"/>
<path d="M1642.7 631.8 L1642.7 618.4 L1730.3 618.4 L1730.3 648.9" fill="none" stroke="#000" stroke-width="5" stroke-linejoin="miter"/>
<text x="1562.7" y="622.7" font-size="40.5" font-weight="bold" fill="#d9261c" text-anchor="middle">*</text>
<text x="1582.1" y="622.7" font-size="40.5" font-weight="bold" fill="#d9261c" text-anchor="middle">*</text>
<text x="1601.5" y="622.7" font-size="40.5" font-weight="bold" fill="#d9261c" text-anchor="middle">*</text>
<text x="1684.8" y="622.7" font-size="40.5" font-weight="bold" fill="#d9261c" text-anchor="middle">*</text>
<text x="1371.3" y="988.01" font-size="37.5" font-weight="bold" fill="#231815" textLength="290.97" lengthAdjust="spacingAndGlyphs" transform="rotate(-90 1371.3 988.01)">Total aggressive</text>
<text x="1415.5" y="956.21" font-size="37.5" font-weight="bold" fill="#231815" textLength="227.22" lengthAdjust="spacingAndGlyphs" transform="rotate(-90 1415.5 956.21)">behaviors (s)</text>
<rect x="1492.8" y="1089.2" width="83.9" height="41.6" fill="#a2c3e5"/>
<rect x="1586.4" y="1089.2" width="188.3" height="41.6" fill="#d3aca6"/>
<text x="1515.24" y="1125.3" font-size="38" font-weight="bold" fill="#231815" textLength="38.33" lengthAdjust="spacingAndGlyphs">RI</text>
<text x="1645.84" y="1125.3" font-size="38" font-weight="bold" fill="#231815" textLength="65.41" lengthAdjust="spacingAndGlyphs">Inst</text>
<text x="1498.25" y="1164.2" font-size="37" font-weight="bold" fill="#231815" textLength="70.85" lengthAdjust="spacingAndGlyphs">OFF</text>
<text x="1594.53" y="1164.2" font-size="37" font-weight="bold" fill="#231815" textLength="71.79" lengthAdjust="spacingAndGlyphs">OFF</text>
<text x="1700.2" y="1164.2" font-size="37" font-weight="bold" fill="#d9261c" textLength="54.76" lengthAdjust="spacingAndGlyphs">ON</text>
<rect x="309.7" y="1284.6" width="95.1" height="562.8" fill="#f9d796"/>
<text x="6.5" y="1253.5" font-size="61" font-weight="bold" fill="#231815">f</text>
<text x="56.6" y="1248.2" font-size="40.5" font-weight="bold" fill="#000" textLength="228.66" lengthAdjust="spacingAndGlyphs">Attack bites</text>
<rect x="137.7" y="1661" width="63.5" height="89" fill="#f0e12b" stroke="#231815" stroke-width="2.4"/>
<line x1="133.5" y1="1661" x2="205.4" y2="1661" stroke="#231815" stroke-width="2.4"/>
<rect x="232.6" y="1545.8" width="63.2" height="204.2" fill="#f0e12b" stroke="#231815" stroke-width="2.4"/>
<line x1="228.4" y1="1545.8" x2="300" y2="1545.8" stroke="#231815" stroke-width="2.4"/>
<rect x="327.1" y="1634.4" width="64.7" height="115.6" fill="#f0e12b" stroke="#231815" stroke-width="2.4"/>
<line x1="322.9" y1="1634.4" x2="396" y2="1634.4" stroke="#231815" stroke-width="2.4"/>
<line x1="168.4" y1="1659.8" x2="168.4" y2="1638.2" stroke="#000" stroke-width="3.6"/>
<line x1="150.7" y1="1639.8" x2="186.1" y2="1639.8" stroke="#000" stroke-width="3.4"/>
<line x1="263.75" y1="1544.6" x2="263.75" y2="1508.5" stroke="#000" stroke-width="3.6"/>
<line x1="246.5" y1="1510.1" x2="281" y2="1510.1" stroke="#000" stroke-width="3.4"/>
<line x1="358.55" y1="1633.2" x2="358.55" y2="1597.2" stroke="#000" stroke-width="3.6"/>
<line x1="341.3" y1="1598.8" x2="375.8" y2="1598.8" stroke="#000" stroke-width="3.4"/>
<g fill="none" stroke="#7f7f7f" stroke-width="2.5">
<polyline points="169,1554.9 263.8,1315 358.4,1437.6"/>
<polyline points="169,1571.2 263.8,1526.8 358.4,1619"/>
<polyline points="169,1622 263.8,1515.9 358.4,1598.3"/>
<polyline points="169,1634.7 263.8,1504.1 358.4,1487"/>
<polyline points="169,1656.3 263.8,1538 358.4,1624.3"/>
<polyline points="169,1695.9 263.8,1560.2 358.4,1673.7"/>
<polyline points="169,1710 263.8,1582.4 358.4,1727.2"/>
<polyline points="169,1714.5 263.8,1586 358.4,1740.2"/>
<polyline points="169,1748.4 263.8,1740.2 358.4,1748.4"/>
</g>
<line x1="107" y1="1303" x2="107" y2="1752.5" stroke="#000" stroke-width="5"/>
<line x1="104.5" y1="1750" x2="411.1" y2="1750" stroke="#000" stroke-width="5"/>
<line x1="107" y1="1305.5" x2="116.9" y2="1305.5" stroke="#000" stroke-width="5"/>
<text x="96.9" y="1314.7" font-size="30.5" font-weight="bold" fill="#231815" text-anchor="end">100</text>
<line x1="107" y1="1394.4" x2="116.9" y2="1394.4" stroke="#000" stroke-width="5"/>
<text x="96.9" y="1403.6" font-size="30.5" font-weight="bold" fill="#231815" text-anchor="end">80</text>
<line x1="107" y1="1483.3" x2="116.9" y2="1483.3" stroke="#000" stroke-width="5"/>
<text x="96.9" y="1492.5" font-size="30.5" font-weight="bold" fill="#231815" text-anchor="end">60</text>
<line x1="107" y1="1572.2" x2="116.9" y2="1572.2" stroke="#000" stroke-width="5"/>
<text x="96.9" y="1581.4" font-size="30.5" font-weight="bold" fill="#231815" text-anchor="end">40</text>
<line x1="107" y1="1661.1" x2="116.9" y2="1661.1" stroke="#000" stroke-width="5"/>
<text x="96.9" y="1670.3" font-size="30.5" font-weight="bold" fill="#231815" text-anchor="end">20</text>
<line x1="107" y1="1750" x2="116.9" y2="1750" stroke="#000" stroke-width="5"/>
<text x="96.9" y="1759.2" font-size="30.5" font-weight="bold" fill="#231815" text-anchor="end">0</text>
<circle cx="169" cy="1554.9" r="7.4" fill="#3e3839" stroke="#111" stroke-width="1.1"/>
<circle cx="263.8" cy="1315" r="7.4" fill="#3e3839" stroke="#111" stroke-width="1.1"/>
<circle cx="358.4" cy="1437.6" r="7.4" fill="#3e3839" stroke="#111" stroke-width="1.1"/>
<circle cx="169" cy="1571.2" r="7.4" fill="#3e3839" stroke="#111" stroke-width="1.1"/>
<circle cx="263.8" cy="1526.8" r="7.4" fill="#3e3839" stroke="#111" stroke-width="1.1"/>
<circle cx="358.4" cy="1619" r="7.4" fill="#3e3839" stroke="#111" stroke-width="1.1"/>
<circle cx="169" cy="1622" r="7.4" fill="#3e3839" stroke="#111" stroke-width="1.1"/>
<circle cx="263.8" cy="1515.9" r="7.4" fill="#3e3839" stroke="#111" stroke-width="1.1"/>
<circle cx="358.4" cy="1598.3" r="7.4" fill="#3e3839" stroke="#111" stroke-width="1.1"/>
<circle cx="169" cy="1634.7" r="7.4" fill="#3e3839" stroke="#111" stroke-width="1.1"/>
<circle cx="263.8" cy="1504.1" r="7.4" fill="#3e3839" stroke="#111" stroke-width="1.1"/>
<circle cx="358.4" cy="1487" r="7.4" fill="#3e3839" stroke="#111" stroke-width="1.1"/>
<circle cx="169" cy="1656.3" r="7.4" fill="#3e3839" stroke="#111" stroke-width="1.1"/>
<circle cx="263.8" cy="1538" r="7.4" fill="#3e3839" stroke="#111" stroke-width="1.1"/>
<circle cx="358.4" cy="1624.3" r="7.4" fill="#3e3839" stroke="#111" stroke-width="1.1"/>
<circle cx="169" cy="1695.9" r="7.4" fill="#3e3839" stroke="#111" stroke-width="1.1"/>
<circle cx="263.8" cy="1560.2" r="7.4" fill="#3e3839" stroke="#111" stroke-width="1.1"/>
<circle cx="358.4" cy="1673.7" r="7.4" fill="#3e3839" stroke="#111" stroke-width="1.1"/>
<circle cx="169" cy="1710" r="7.4" fill="#3e3839" stroke="#111" stroke-width="1.1"/>
<circle cx="263.8" cy="1582.4" r="7.4" fill="#3e3839" stroke="#111" stroke-width="1.1"/>
<circle cx="358.4" cy="1727.2" r="7.4" fill="#3e3839" stroke="#111" stroke-width="1.1"/>
<circle cx="169" cy="1714.5" r="7.4" fill="#3e3839" stroke="#111" stroke-width="1.1"/>
<circle cx="263.8" cy="1586" r="7.4" fill="#3e3839" stroke="#111" stroke-width="1.1"/>
<circle cx="358.4" cy="1740.2" r="7.4" fill="#3e3839" stroke="#111" stroke-width="1.1"/>
<circle cx="169" cy="1748.4" r="7.4" fill="#3e3839" stroke="#111" stroke-width="1.1"/>
<circle cx="263.8" cy="1740.2" r="7.4" fill="#3e3839" stroke="#111" stroke-width="1.1"/>
<circle cx="358.4" cy="1748.4" r="7.4" fill="#3e3839" stroke="#111" stroke-width="1.1"/>
<path d="M172.6 1397.6 L172.6 1289.4 L254.7 1289.4 L254.7 1302.8" fill="none" stroke="#000" stroke-width="5" stroke-linejoin="miter"/>
<path d="M272.1 1303.5 L272.1 1289.4 L357.3 1289.4 L357.3 1397.6" fill="none" stroke="#000" stroke-width="5" stroke-linejoin="miter"/>
<text x="191.7" y="1293.4" font-size="40.5" font-weight="bold" fill="#d9261c" text-anchor="middle">*</text>
<text x="211.4" y="1293.4" font-size="40.5" font-weight="bold" fill="#d9261c" text-anchor="middle">*</text>
<text x="231.3" y="1293.4" font-size="40.5" font-weight="bold" fill="#d9261c" text-anchor="middle">*</text>
<text x="306.7" y="1293.4" font-size="40.5" font-weight="bold" fill="#d9261c" text-anchor="middle">*</text>
<text x="326.4" y="1293.4" font-size="40.5" font-weight="bold" fill="#d9261c" text-anchor="middle">*</text>
<text x="40" y="1614.94" font-size="37" font-weight="bold" fill="#231815" textLength="184.64" lengthAdjust="spacingAndGlyphs" transform="rotate(-90 40 1614.94)">Frequency</text>
<rect x="124.9" y="1760" width="83.1" height="41.7" fill="#a2c3e5"/>
<rect x="217.3" y="1760" width="186.1" height="41.7" fill="#d3aca6"/>
<text x="147.21" y="1791.7" font-size="37" font-weight="bold" fill="#231815" textLength="37.29" lengthAdjust="spacingAndGlyphs">RI</text>
<text x="276.44" y="1791.7" font-size="37" font-weight="bold" fill="#231815" textLength="65.31" lengthAdjust="spacingAndGlyphs">Inst</text>
<text x="129.81" y="1835.7" font-size="37.8" font-weight="bold" fill="#231815" textLength="72.62" lengthAdjust="spacingAndGlyphs">OFF</text>
<text x="225.11" y="1835.7" font-size="37.8" font-weight="bold" fill="#231815" textLength="72.62" lengthAdjust="spacingAndGlyphs">OFF</text>
<text x="329.19" y="1835.7" font-size="37.8" font-weight="bold" fill="#d9261c" textLength="55.19" lengthAdjust="spacingAndGlyphs">ON</text>
<rect x="761.1" y="1284" width="95.3" height="562.4" fill="#f9d796"/>
<text x="452.5" y="1254" font-size="61" font-weight="bold" fill="#231815">g</text>
<text x="515.05" y="1254.4" font-size="39" font-weight="bold" fill="#000" textLength="326.99" lengthAdjust="spacingAndGlyphs">Sideways threats</text>
<rect x="588.9" y="1697.3" width="62.6" height="52" fill="#f0e12b" stroke="#231815" stroke-width="2.4"/>
<line x1="584.7" y1="1697.3" x2="655.7" y2="1697.3" stroke="#231815" stroke-width="2.4"/>
<rect x="683.5" y="1584.2" width="64.1" height="165.1" fill="#f0e12b" stroke="#231815" stroke-width="2.4"/>
<line x1="679.3" y1="1584.2" x2="751.8" y2="1584.2" stroke="#231815" stroke-width="2.4"/>
<rect x="778.9" y="1670.5" width="63.2" height="78.8" fill="#f0e12b" stroke="#231815" stroke-width="2.4"/>
<line x1="774.7" y1="1670.5" x2="846.3" y2="1670.5" stroke="#231815" stroke-width="2.4"/>
<line x1="620.25" y1="1696.1" x2="620.25" y2="1677.5" stroke="#000" stroke-width="3.6"/>
<line x1="604" y1="1679.1" x2="636.5" y2="1679.1" stroke="#000" stroke-width="3.4"/>
<line x1="714.3" y1="1583" x2="714.3" y2="1549" stroke="#000" stroke-width="3.6"/>
<line x1="697.6" y1="1550.6" x2="731" y2="1550.6" stroke="#000" stroke-width="3.4"/>
<line x1="809.35" y1="1669.3" x2="809.35" y2="1645" stroke="#000" stroke-width="3.6"/>
<line x1="792.2" y1="1646.6" x2="826.5" y2="1646.6" stroke="#000" stroke-width="3.4"/>
<g fill="none" stroke="#7f7f7f" stroke-width="2.5">
<polyline points="620.2,1614 714.8,1466.9 809.3,1597.8"/>
<polyline points="620.2,1627.9 714.8,1481.6 809.3,1572.6"/>
<polyline points="620.2,1650.3 714.8,1506.2 809.3,1606.6"/>
<polyline points="620.2,1664.2 714.8,1535.7 809.3,1645"/>
<polyline points="620.2,1716.5 714.8,1541.6 809.3,1736.6"/>
<polyline points="620.2,1718.9 714.8,1552 809.3,1747"/>
<polyline points="620.2,1732.2 714.8,1668.7 809.3,1711.5"/>
<polyline points="620.2,1745.5 714.8,1720.4 809.3,1736.6"/>
<polyline points="620.2,1745.5 714.8,1723.3 809.3,1747"/>
</g>
<line x1="558.4" y1="1303.8" x2="558.4" y2="1751.8" stroke="#000" stroke-width="5"/>
<line x1="555.9" y1="1749.3" x2="864" y2="1749.3" stroke="#000" stroke-width="5"/>
<line x1="558.4" y1="1305.2" x2="570" y2="1305.2" stroke="#000" stroke-width="5"/>
<text x="548.6" y="1314.4" font-size="30.5" font-weight="bold" fill="#231815" text-anchor="end">60</text>
<line x1="558.4" y1="1452.4" x2="570" y2="1452.4" stroke="#000" stroke-width="5"/>
<text x="548.6" y="1461.6" font-size="30.5" font-weight="bold" fill="#231815" text-anchor="end">40</text>
<line x1="558.4" y1="1600.7" x2="570" y2="1600.7" stroke="#000" stroke-width="5"/>
<text x="548.6" y="1609.9" font-size="30.5" font-weight="bold" fill="#231815" text-anchor="end">20</text>
<line x1="558.4" y1="1749.3" x2="570" y2="1749.3" stroke="#000" stroke-width="5"/>
<text x="548.6" y="1758.5" font-size="30.5" font-weight="bold" fill="#231815" text-anchor="end">0</text>
<circle cx="620.2" cy="1614" r="7.4" fill="#3e3839" stroke="#111" stroke-width="1.1"/>
<circle cx="714.8" cy="1466.9" r="7.4" fill="#3e3839" stroke="#111" stroke-width="1.1"/>
<circle cx="809.3" cy="1597.8" r="7.4" fill="#3e3839" stroke="#111" stroke-width="1.1"/>
<circle cx="620.2" cy="1627.9" r="7.4" fill="#3e3839" stroke="#111" stroke-width="1.1"/>
<circle cx="714.8" cy="1481.6" r="7.4" fill="#3e3839" stroke="#111" stroke-width="1.1"/>
<circle cx="809.3" cy="1572.6" r="7.4" fill="#3e3839" stroke="#111" stroke-width="1.1"/>
<circle cx="620.2" cy="1650.3" r="7.4" fill="#3e3839" stroke="#111" stroke-width="1.1"/>
<circle cx="714.8" cy="1506.2" r="7.4" fill="#3e3839" stroke="#111" stroke-width="1.1"/>
<circle cx="809.3" cy="1606.6" r="7.4" fill="#3e3839" stroke="#111" stroke-width="1.1"/>
<circle cx="620.2" cy="1664.2" r="7.4" fill="#3e3839" stroke="#111" stroke-width="1.1"/>
<circle cx="714.8" cy="1535.7" r="7.4" fill="#3e3839" stroke="#111" stroke-width="1.1"/>
<circle cx="809.3" cy="1645" r="7.4" fill="#3e3839" stroke="#111" stroke-width="1.1"/>
<circle cx="620.2" cy="1716.5" r="7.4" fill="#3e3839" stroke="#111" stroke-width="1.1"/>
<circle cx="714.8" cy="1541.6" r="7.4" fill="#3e3839" stroke="#111" stroke-width="1.1"/>
<circle cx="809.3" cy="1736.6" r="7.4" fill="#3e3839" stroke="#111" stroke-width="1.1"/>
<circle cx="620.2" cy="1718.9" r="7.4" fill="#3e3839" stroke="#111" stroke-width="1.1"/>
<circle cx="714.8" cy="1552" r="7.4" fill="#3e3839" stroke="#111" stroke-width="1.1"/>
<circle cx="809.3" cy="1747" r="7.4" fill="#3e3839" stroke="#111" stroke-width="1.1"/>
<circle cx="620.2" cy="1732.2" r="7.4" fill="#3e3839" stroke="#111" stroke-width="1.1"/>
<circle cx="714.8" cy="1668.7" r="7.4" fill="#3e3839" stroke="#111" stroke-width="1.1"/>
<circle cx="809.3" cy="1711.5" r="7.4" fill="#3e3839" stroke="#111" stroke-width="1.1"/>
<circle cx="620.2" cy="1745.5" r="7.4" fill="#3e3839" stroke="#111" stroke-width="1.1"/>
<circle cx="714.8" cy="1720.4" r="7.4" fill="#3e3839" stroke="#111" stroke-width="1.1"/>
<circle cx="809.3" cy="1736.6" r="7.4" fill="#3e3839" stroke="#111" stroke-width="1.1"/>
<circle cx="620.2" cy="1745.5" r="7.4" fill="#3e3839" stroke="#111" stroke-width="1.1"/>
<circle cx="714.8" cy="1723.3" r="7.4" fill="#3e3839" stroke="#111" stroke-width="1.1"/>
<circle cx="809.3" cy="1747" r="7.4" fill="#3e3839" stroke="#111" stroke-width="1.1"/>
<path d="M623.3 1484 L623.3 1376.2 L705.4 1376.2 L705.4 1389.8" fill="none" stroke="#000" stroke-width="5" stroke-linejoin="miter"/>
<path d="M723.2 1389.8 L723.2 1376.2 L808.2 1376.2 L808.2 1484" fill="none" stroke="#000" stroke-width="5" stroke-linejoin="miter"/>
<text x="632" y="1380.4" font-size="40.5" font-weight="bold" fill="#d9261c" text-anchor="middle">*</text>
<text x="651.4" y="1380.4" font-size="40.5" font-weight="bold" fill="#d9261c" text-anchor="middle">*</text>
<text x="670.5" y="1380.4" font-size="40.5" font-weight="bold" fill="#d9261c" text-anchor="middle">*</text>
<text x="689.9" y="1380.4" font-size="40.5" font-weight="bold" fill="#d9261c" text-anchor="middle">*</text>
<text x="757.3" y="1380.4" font-size="40.5" font-weight="bold" fill="#d9261c" text-anchor="middle">*</text>
<text x="777.1" y="1380.4" font-size="40.5" font-weight="bold" fill="#d9261c" text-anchor="middle">*</text>
<text x="496.1" y="1614.93" font-size="37" font-weight="bold" fill="#231815" textLength="203.74" lengthAdjust="spacingAndGlyphs" transform="rotate(-90 496.1 1614.93)">Duration (s)</text>
<rect x="576.2" y="1758.9" width="83.6" height="41.6" fill="#a2c3e5"/>
<rect x="668.2" y="1758.9" width="186.8" height="41.6" fill="#d3aca6"/>
<text x="599.31" y="1791.6" font-size="37" font-weight="bold" fill="#231815" textLength="37.29" lengthAdjust="spacingAndGlyphs">RI</text>
<text x="727.84" y="1791.6" font-size="37" font-weight="bold" fill="#231815" textLength="65.31" lengthAdjust="spacingAndGlyphs">Inst</text>
<text x="581.31" y="1835.9" font-size="37.8" font-weight="bold" fill="#231815" textLength="72.62" lengthAdjust="spacingAndGlyphs">OFF</text>
<text x="676.51" y="1835.9" font-size="37.8" font-weight="bold" fill="#231815" textLength="72.62" lengthAdjust="spacingAndGlyphs">OFF</text>
<text x="780.89" y="1835.9" font-size="37.8" font-weight="bold" fill="#d9261c" textLength="55.19" lengthAdjust="spacingAndGlyphs">ON</text>
<rect x="1211.5" y="1284.6" width="95.4" height="562.8" fill="#f9d796"/>
<text x="907" y="1253.5" font-size="61" font-weight="bold" fill="#231815">h</text>
<text x="967.65" y="1255" font-size="39" font-weight="bold" fill="#000" textLength="235.1" lengthAdjust="spacingAndGlyphs">Locomotion</text>
<rect x="1037.5" y="1528" width="64" height="221.3" fill="#f0e12b" stroke="#231815" stroke-width="2.4"/>
<line x1="1033.3" y1="1528" x2="1105.7" y2="1528" stroke="#231815" stroke-width="2.4"/>
<rect x="1132.6" y="1521.2" width="64.1" height="228.1" fill="#f0e12b" stroke="#231815" stroke-width="2.4"/>
<line x1="1128.4" y1="1521.2" x2="1200.9" y2="1521.2" stroke="#231815" stroke-width="2.4"/>
<rect x="1227.4" y="1537.5" width="63.8" height="211.8" fill="#f0e12b" stroke="#231815" stroke-width="2.4"/>
<line x1="1223.2" y1="1537.5" x2="1295.4" y2="1537.5" stroke="#231815" stroke-width="2.4"/>
<line x1="1068" y1="1526.8" x2="1068" y2="1507" stroke="#000" stroke-width="3.6"/>
<line x1="1051" y1="1508.6" x2="1085" y2="1508.6" stroke="#000" stroke-width="3.4"/>
<line x1="1163.3" y1="1520" x2="1163.3" y2="1504.1" stroke="#000" stroke-width="3.6"/>
<line x1="1145.6" y1="1505.7" x2="1181" y2="1505.7" stroke="#000" stroke-width="3.4"/>
<line x1="1257.8" y1="1536.3" x2="1257.8" y2="1517.4" stroke="#000" stroke-width="3.6"/>
<line x1="1240" y1="1519" x2="1275.6" y2="1519" stroke="#000" stroke-width="3.4"/>
<g fill="none" stroke="#7f7f7f" stroke-width="2.5">
<polyline points="1068.2,1413.1 1162.4,1440.6 1257.9,1508.5"/>
<polyline points="1068.2,1493.7 1162.4,1510.6 1257.9,1461.8"/>
<polyline points="1068.2,1517.4 1162.4,1456.8 1257.9,1603.7"/>
<polyline points="1068.2,1504.1 1162.4,1513 1257.9,1516.5"/>
<polyline points="1068.2,1501.7 1162.4,1519.4 1257.9,1528.3"/>
<polyline points="1068.2,1524.8 1162.4,1543.1 1257.9,1557.3"/>
<polyline points="1068.2,1540.1 1162.4,1519.4 1257.9,1559.3"/>
<polyline points="1068.2,1602.2 1162.4,1570.6 1257.9,1455.9"/>
<polyline points="1068.2,1608.1 1162.4,1585.9 1257.9,1603.7"/>
</g>
<line x1="1007.5" y1="1303.8" x2="1007.5" y2="1751.8" stroke="#000" stroke-width="5"/>
<line x1="1005" y1="1749.3" x2="1314.6" y2="1749.3" stroke="#000" stroke-width="5"/>
<line x1="1007.5" y1="1305.2" x2="1019" y2="1305.2" stroke="#000" stroke-width="5"/>
<text x="997.9" y="1314.4" font-size="30.5" font-weight="bold" fill="#231815" text-anchor="end">150</text>
<line x1="1007.5" y1="1452.4" x2="1019" y2="1452.4" stroke="#000" stroke-width="5"/>
<text x="997.9" y="1461.6" font-size="30.5" font-weight="bold" fill="#231815" text-anchor="end">100</text>
<line x1="1007.5" y1="1600.7" x2="1019" y2="1600.7" stroke="#000" stroke-width="5"/>
<text x="997.9" y="1609.9" font-size="30.5" font-weight="bold" fill="#231815" text-anchor="end">50</text>
<line x1="1007.5" y1="1749.3" x2="1019" y2="1749.3" stroke="#000" stroke-width="5"/>
<text x="997.9" y="1758.5" font-size="30.5" font-weight="bold" fill="#231815" text-anchor="end">0</text>
<circle cx="1068.2" cy="1413.1" r="7.4" fill="#3e3839" stroke="#111" stroke-width="1.1"/>
<circle cx="1162.4" cy="1440.6" r="7.4" fill="#3e3839" stroke="#111" stroke-width="1.1"/>
<circle cx="1257.9" cy="1508.5" r="7.4" fill="#3e3839" stroke="#111" stroke-width="1.1"/>
<circle cx="1068.2" cy="1493.7" r="7.4" fill="#3e3839" stroke="#111" stroke-width="1.1"/>
<circle cx="1162.4" cy="1510.6" r="7.4" fill="#3e3839" stroke="#111" stroke-width="1.1"/>
<circle cx="1257.9" cy="1461.8" r="7.4" fill="#3e3839" stroke="#111" stroke-width="1.1"/>
<circle cx="1068.2" cy="1517.4" r="7.4" fill="#3e3839" stroke="#111" stroke-width="1.1"/>
<circle cx="1162.4" cy="1456.8" r="7.4" fill="#3e3839" stroke="#111" stroke-width="1.1"/>
<circle cx="1257.9" cy="1603.7" r="7.4" fill="#3e3839" stroke="#111" stroke-width="1.1"/>
<circle cx="1068.2" cy="1504.1" r="7.4" fill="#3e3839" stroke="#111" stroke-width="1.1"/>
<circle cx="1162.4" cy="1513" r="7.4" fill="#3e3839" stroke="#111" stroke-width="1.1"/>
<circle cx="1257.9" cy="1516.5" r="7.4" fill="#3e3839" stroke="#111" stroke-width="1.1"/>
<circle cx="1068.2" cy="1501.7" r="7.4" fill="#3e3839" stroke="#111" stroke-width="1.1"/>
<circle cx="1162.4" cy="1519.4" r="7.4" fill="#3e3839" stroke="#111" stroke-width="1.1"/>
<circle cx="1257.9" cy="1528.3" r="7.4" fill="#3e3839" stroke="#111" stroke-width="1.1"/>
<circle cx="1068.2" cy="1524.8" r="7.4" fill="#3e3839" stroke="#111" stroke-width="1.1"/>
<circle cx="1162.4" cy="1543.1" r="7.4" fill="#3e3839" stroke="#111" stroke-width="1.1"/>
<circle cx="1257.9" cy="1557.3" r="7.4" fill="#3e3839" stroke="#111" stroke-width="1.1"/>
<circle cx="1068.2" cy="1540.1" r="7.4" fill="#3e3839" stroke="#111" stroke-width="1.1"/>
<circle cx="1162.4" cy="1519.4" r="7.4" fill="#3e3839" stroke="#111" stroke-width="1.1"/>
<circle cx="1257.9" cy="1559.3" r="7.4" fill="#3e3839" stroke="#111" stroke-width="1.1"/>
<circle cx="1068.2" cy="1602.2" r="7.4" fill="#3e3839" stroke="#111" stroke-width="1.1"/>
<circle cx="1162.4" cy="1570.6" r="7.4" fill="#3e3839" stroke="#111" stroke-width="1.1"/>
<circle cx="1257.9" cy="1455.9" r="7.4" fill="#3e3839" stroke="#111" stroke-width="1.1"/>
<circle cx="1068.2" cy="1608.1" r="7.4" fill="#3e3839" stroke="#111" stroke-width="1.1"/>
<circle cx="1162.4" cy="1585.9" r="7.4" fill="#3e3839" stroke="#111" stroke-width="1.1"/>
<circle cx="1257.9" cy="1603.7" r="7.4" fill="#3e3839" stroke="#111" stroke-width="1.1"/>
<text x="936" y="1614.93" font-size="37" font-weight="bold" fill="#231815" textLength="203.74" lengthAdjust="spacingAndGlyphs" transform="rotate(-90 936 1614.93)">Duration (s)</text>
<rect x="1026.8" y="1760.4" width="83.3" height="41.4" fill="#a2c3e5"/>
<rect x="1119" y="1760.4" width="186.2" height="41.4" fill="#d3aca6"/>
<text x="1049.31" y="1792.8" font-size="37" font-weight="bold" fill="#231815" textLength="37.29" lengthAdjust="spacingAndGlyphs">RI</text>
<text x="1178.14" y="1792.8" font-size="37" font-weight="bold" fill="#231815" textLength="65.31" lengthAdjust="spacingAndGlyphs">Inst</text>
<text x="1031.91" y="1836.8" font-size="37.8" font-weight="bold" fill="#231815" textLength="72.62" lengthAdjust="spacingAndGlyphs">OFF</text>
<text x="1127.41" y="1836.8" font-size="37.8" font-weight="bold" fill="#231815" textLength="72.62" lengthAdjust="spacingAndGlyphs">OFF</text>
<text x="1231.19" y="1836.8" font-size="37.8" font-weight="bold" fill="#d9261c" textLength="55.19" lengthAdjust="spacingAndGlyphs">ON</text>
<rect x="1664.9" y="1283" width="95.1" height="562.7" fill="#f9d796"/>
<text x="1369.5" y="1253.5" font-size="61" font-weight="bold" fill="#231815">i</text>
<text x="1409.73" y="1255" font-size="39" font-weight="bold" fill="#000" textLength="275.77" lengthAdjust="spacingAndGlyphs">Social contact</text>
<rect x="1490.3" y="1654.9" width="64.1" height="92.9" fill="#f0e12b" stroke="#231815" stroke-width="2.4"/>
<line x1="1486.1" y1="1654.9" x2="1558.6" y2="1654.9" stroke="#231815" stroke-width="2.4"/>
<rect x="1585.7" y="1659.3" width="64.1" height="88.5" fill="#f0e12b" stroke="#231815" stroke-width="2.4"/>
<line x1="1581.5" y1="1659.3" x2="1654" y2="1659.3" stroke="#231815" stroke-width="2.4"/>
<rect x="1680.8" y="1638.6" width="64.1" height="109.2" fill="#f0e12b" stroke="#231815" stroke-width="2.4"/>
<line x1="1676.6" y1="1638.6" x2="1749.1" y2="1638.6" stroke="#231815" stroke-width="2.4"/>
<line x1="1521" y1="1653.7" x2="1521" y2="1626.5" stroke="#000" stroke-width="3.6"/>
<line x1="1504" y1="1628.1" x2="1538" y2="1628.1" stroke="#000" stroke-width="3.4"/>
<line x1="1615.4" y1="1658.1" x2="1615.4" y2="1636.6" stroke="#000" stroke-width="3.6"/>
<line x1="1598.4" y1="1638.2" x2="1632.4" y2="1638.2" stroke="#000" stroke-width="3.4"/>
<line x1="1709.95" y1="1637.4" x2="1709.95" y2="1600.5" stroke="#000" stroke-width="3.6"/>
<line x1="1693" y1="1602.1" x2="1726.9" y2="1602.1" stroke="#000" stroke-width="3.4"/>
<g fill="none" stroke="#7f7f7f" stroke-width="2.5">
<polyline points="1519.8,1474.2 1614.7,1571.1 1709.5,1368.7"/>
<polyline points="1519.8,1647.5 1614.7,1571.1 1709.5,1603"/>
<polyline points="1519.8,1575.4 1614.7,1627.7 1709.5,1682.2"/>
<polyline points="1519.8,1667.4 1614.7,1608.6 1709.5,1620"/>
<polyline points="1519.8,1673 1614.7,1702 1709.5,1710.5"/>
<polyline points="1519.8,1693.5 1614.7,1673 1709.5,1613.6"/>
<polyline points="1519.8,1693.5 1614.7,1694.3 1709.5,1685"/>
<polyline points="1519.8,1696.4 1614.7,1710.5 1709.5,1694.3"/>
<polyline points="1519.8,1738.1 1614.7,1741 1709.5,1741"/>
</g>
<line x1="1459.9" y1="1301" x2="1459.9" y2="1750.3" stroke="#000" stroke-width="5"/>
<line x1="1457.4" y1="1747.8" x2="1765.3" y2="1747.8" stroke="#000" stroke-width="5"/>
<line x1="1459.9" y1="1303.5" x2="1474.4" y2="1303.5" stroke="#000" stroke-width="5"/>
<text x="1450.4" y="1312.7" font-size="30.5" font-weight="bold" fill="#231815" text-anchor="end">150</text>
<line x1="1459.9" y1="1451.5" x2="1474.4" y2="1451.5" stroke="#000" stroke-width="5"/>
<text x="1450.4" y="1460.7" font-size="30.5" font-weight="bold" fill="#231815" text-anchor="end">100</text>
<line x1="1459.9" y1="1599.6" x2="1474.4" y2="1599.6" stroke="#000" stroke-width="5"/>
<text x="1450.4" y="1608.8" font-size="30.5" font-weight="bold" fill="#231815" text-anchor="end">50</text>
<line x1="1459.9" y1="1747.8" x2="1474.4" y2="1747.8" stroke="#000" stroke-width="5"/>
<text x="1450.4" y="1757" font-size="30.5" font-weight="bold" fill="#231815" text-anchor="end">0</text>
<circle cx="1519.8" cy="1474.2" r="7.4" fill="#3e3839" stroke="#111" stroke-width="1.1"/>
<circle cx="1614.7" cy="1571.1" r="7.4" fill="#3e3839" stroke="#111" stroke-width="1.1"/>
<circle cx="1709.5" cy="1368.7" r="7.4" fill="#3e3839" stroke="#111" stroke-width="1.1"/>
<circle cx="1519.8" cy="1647.5" r="7.4" fill="#3e3839" stroke="#111" stroke-width="1.1"/>
<circle cx="1614.7" cy="1571.1" r="7.4" fill="#3e3839" stroke="#111" stroke-width="1.1"/>
<circle cx="1709.5" cy="1603" r="7.4" fill="#3e3839" stroke="#111" stroke-width="1.1"/>
<circle cx="1519.8" cy="1575.4" r="7.4" fill="#3e3839" stroke="#111" stroke-width="1.1"/>
<circle cx="1614.7" cy="1627.7" r="7.4" fill="#3e3839" stroke="#111" stroke-width="1.1"/>
<circle cx="1709.5" cy="1682.2" r="7.4" fill="#3e3839" stroke="#111" stroke-width="1.1"/>
<circle cx="1519.8" cy="1667.4" r="7.4" fill="#3e3839" stroke="#111" stroke-width="1.1"/>
<circle cx="1614.7" cy="1608.6" r="7.4" fill="#3e3839" stroke="#111" stroke-width="1.1"/>
<circle cx="1709.5" cy="1620" r="7.4" fill="#3e3839" stroke="#111" stroke-width="1.1"/>
<circle cx="1519.8" cy="1673" r="7.4" fill="#3e3839" stroke="#111" stroke-width="1.1"/>
<circle cx="1614.7" cy="1702" r="7.4" fill="#3e3839" stroke="#111" stroke-width="1.1"/>
<circle cx="1709.5" cy="1710.5" r="7.4" fill="#3e3839" stroke="#111" stroke-width="1.1"/>
<circle cx="1519.8" cy="1693.5" r="7.4" fill="#3e3839" stroke="#111" stroke-width="1.1"/>
<circle cx="1614.7" cy="1673" r="7.4" fill="#3e3839" stroke="#111" stroke-width="1.1"/>
<circle cx="1709.5" cy="1613.6" r="7.4" fill="#3e3839" stroke="#111" stroke-width="1.1"/>
<circle cx="1519.8" cy="1693.5" r="7.4" fill="#3e3839" stroke="#111" stroke-width="1.1"/>
<circle cx="1614.7" cy="1694.3" r="7.4" fill="#3e3839" stroke="#111" stroke-width="1.1"/>
<circle cx="1709.5" cy="1685" r="7.4" fill="#3e3839" stroke="#111" stroke-width="1.1"/>
<circle cx="1519.8" cy="1696.4" r="7.4" fill="#3e3839" stroke="#111" stroke-width="1.1"/>
<circle cx="1614.7" cy="1710.5" r="7.4" fill="#3e3839" stroke="#111" stroke-width="1.1"/>
<circle cx="1709.5" cy="1694.3" r="7.4" fill="#3e3839" stroke="#111" stroke-width="1.1"/>
<circle cx="1519.8" cy="1738.1" r="7.4" fill="#3e3839" stroke="#111" stroke-width="1.1"/>
<circle cx="1614.7" cy="1741" r="7.4" fill="#3e3839" stroke="#111" stroke-width="1.1"/>
<circle cx="1709.5" cy="1741" r="7.4" fill="#3e3839" stroke="#111" stroke-width="1.1"/>
<text x="1384.5" y="1614.74" font-size="37" font-weight="bold" fill="#231815" textLength="204.25" lengthAdjust="spacingAndGlyphs" transform="rotate(-90 1384.5 1614.74)">Duration (s)</text>
<rect x="1479.7" y="1758.9" width="83.5" height="41.6" fill="#a2c3e5"/>
<rect x="1571.8" y="1758.9" width="186.7" height="41.6" fill="#d3aca6"/>
<text x="1502.21" y="1791.2" font-size="37" font-weight="bold" fill="#231815" textLength="37.29" lengthAdjust="spacingAndGlyphs">RI</text>
<text x="1630.94" y="1791.2" font-size="37" font-weight="bold" fill="#231815" textLength="65.31" lengthAdjust="spacingAndGlyphs">Inst</text>
<text x="1484.61" y="1835" font-size="37.8" font-weight="bold" fill="#231815" textLength="72.62" lengthAdjust="spacingAndGlyphs">OFF</text>
<text x="1580.11" y="1835" font-size="37.8" font-weight="bold" fill="#231815" textLength="72.62" lengthAdjust="spacingAndGlyphs">OFF</text>
<text x="1684.49" y="1835" font-size="37.8" font-weight="bold" fill="#d9261c" textLength="55.19" lengthAdjust="spacingAndGlyphs">ON</text>
<rect x="236" y="1941.7" width="95" height="553.8" fill="#f9d796"/>
<text x="5" y="1927.6" font-size="61" font-weight="bold" fill="#231815">j</text>
<text x="55.84" y="1927" font-size="42" font-weight="bold" fill="#000" textLength="329.82" lengthAdjust="spacingAndGlyphs">Total aggression</text>
<rect x="140.6" y="2242.9" width="63.8" height="154.6" fill="#f7da00" stroke="#231815" stroke-width="2.4"/>
<rect x="249.9" y="2235.8" width="64.4" height="161.7" fill="#f7da00" stroke="#231815" stroke-width="2.4"/>
<line x1="171.85" y1="2241.7" x2="171.85" y2="2209.3" stroke="#000" stroke-width="3.6"/>
<line x1="154.4" y1="2210.9" x2="189.3" y2="2210.9" stroke="#000" stroke-width="3.4"/>
<line x1="279.9" y1="2234.6" x2="279.9" y2="2195.2" stroke="#000" stroke-width="3.6"/>
<line x1="260.6" y1="2196.8" x2="299.2" y2="2196.8" stroke="#000" stroke-width="3.4"/>
<g fill="none" stroke="#7f7f7f" stroke-width="2.5">
<polyline points="173.8,2133.2 283.7,2062.8"/>
<polyline points="173.8,2136 283.7,2173.5"/>
<polyline points="173.8,2145.1"/>
<polyline points="173.8,2193.8 283.7,2095.8"/>
<polyline points="173.8,2200.8 283.7,2283.1"/>
<polyline points="173.8,2236 283.7,2261.4"/>
<polyline points="173.8,2293.8 283.7,2283.1"/>
<polyline points="173.8,2317.7 283.7,2296.6"/>
<polyline points="173.8,2399.4 283.7,2399.4"/>
</g>
<line x1="99.7" y1="1953.3" x2="99.7" y2="2400" stroke="#000" stroke-width="5"/>
<line x1="97.2" y1="2397.5" x2="335.2" y2="2397.5" stroke="#000" stroke-width="5"/>
<line x1="99.7" y1="1955.8" x2="109.9" y2="1955.8" stroke="#000" stroke-width="5"/>
<text x="91.6" y="1965" font-size="30.5" font-weight="bold" fill="#231815" text-anchor="end">80</text>
<line x1="99.7" y1="2066.2" x2="109.9" y2="2066.2" stroke="#000" stroke-width="5"/>
<text x="91.6" y="2075.4" font-size="30.5" font-weight="bold" fill="#231815" text-anchor="end">60</text>
<line x1="99.7" y1="2176.6" x2="109.9" y2="2176.6" stroke="#000" stroke-width="5"/>
<text x="91.6" y="2185.8" font-size="30.5" font-weight="bold" fill="#231815" text-anchor="end">40</text>
<line x1="99.7" y1="2287.1" x2="109.9" y2="2287.1" stroke="#000" stroke-width="5"/>
<text x="91.6" y="2296.3" font-size="30.5" font-weight="bold" fill="#231815" text-anchor="end">20</text>
<line x1="99.7" y1="2397.5" x2="109.9" y2="2397.5" stroke="#000" stroke-width="5"/>
<text x="91.6" y="2406.7" font-size="30.5" font-weight="bold" fill="#231815" text-anchor="end">0</text>
<circle cx="173.8" cy="2133.2" r="7.4" fill="#3e3839" stroke="#111" stroke-width="1.1"/>
<circle cx="283.7" cy="2062.8" r="7.4" fill="#3e3839" stroke="#111" stroke-width="1.1"/>
<circle cx="173.8" cy="2136" r="7.4" fill="#3e3839" stroke="#111" stroke-width="1.1"/>
<circle cx="283.7" cy="2173.5" r="7.4" fill="#3e3839" stroke="#111" stroke-width="1.1"/>
<circle cx="173.8" cy="2145.1" r="7.4" fill="#3e3839" stroke="#111" stroke-width="1.1"/>
<circle cx="173.8" cy="2193.8" r="7.4" fill="#3e3839" stroke="#111" stroke-width="1.1"/>
<circle cx="283.7" cy="2095.8" r="7.4" fill="#3e3839" stroke="#111" stroke-width="1.1"/>
<circle cx="173.8" cy="2200.8" r="7.4" fill="#3e3839" stroke="#111" stroke-width="1.1"/>
<circle cx="283.7" cy="2283.1" r="7.4" fill="#3e3839" stroke="#111" stroke-width="1.1"/>
<circle cx="173.8" cy="2236" r="7.4" fill="#3e3839" stroke="#111" stroke-width="1.1"/>
<circle cx="283.7" cy="2261.4" r="7.4" fill="#3e3839" stroke="#111" stroke-width="1.1"/>
<circle cx="173.8" cy="2293.8" r="7.4" fill="#3e3839" stroke="#111" stroke-width="1.1"/>
<circle cx="283.7" cy="2283.1" r="7.4" fill="#3e3839" stroke="#111" stroke-width="1.1"/>
<circle cx="173.8" cy="2317.7" r="7.4" fill="#3e3839" stroke="#111" stroke-width="1.1"/>
<circle cx="283.7" cy="2296.6" r="7.4" fill="#3e3839" stroke="#111" stroke-width="1.1"/>
<circle cx="173.8" cy="2399.4" r="7.4" fill="#000" stroke="#111" stroke-width="1.1"/>
<circle cx="283.7" cy="2399.4" r="7.4" fill="#000" stroke="#111" stroke-width="1.1"/>
<text x="46" y="2249.74" font-size="37" font-weight="bold" fill="#231815" textLength="204.25" lengthAdjust="spacingAndGlyphs" transform="rotate(-90 46 2249.74)">Duration (s)</text>
<rect x="129.2" y="2408.5" width="194.6" height="41.3" fill="#a2c3e5"/>
<text x="204.09" y="2440.6" font-size="38" font-weight="bold" fill="#231815" textLength="37.52" lengthAdjust="spacingAndGlyphs">RI</text>
<text x="137.51" y="2485" font-size="37.3" font-weight="bold" fill="#231815" textLength="72.62" lengthAdjust="spacingAndGlyphs">OFF</text>
<text x="252.5" y="2485" font-size="37.3" font-weight="bold" fill="#d9261c" textLength="54.76" lengthAdjust="spacingAndGlyphs">ON</text>
<rect x="599.2" y="1938.9" width="94.9" height="556.7" fill="#f9d796"/>
<text x="421" y="1927.6" font-size="61" font-weight="bold" fill="#231815">k</text>
<text x="476.2" y="1926.8" font-size="40.5" font-weight="bold" fill="#000" textLength="227.95" lengthAdjust="spacingAndGlyphs">Attack bites</text>
<rect x="504.3" y="2297.8" width="64.6" height="98.6" fill="#f7da00" stroke="#231815" stroke-width="2.4"/>
<rect x="614.2" y="2280.9" width="64.6" height="115.5" fill="#f7da00" stroke="#231815" stroke-width="2.4"/>
<line x1="536.75" y1="2296.6" x2="536.75" y2="2273.5" stroke="#000" stroke-width="3.6"/>
<line x1="518.9" y1="2275.1" x2="554.6" y2="2275.1" stroke="#000" stroke-width="3.4"/>
<line x1="645.9" y1="2279.7" x2="645.9" y2="2242.5" stroke="#000" stroke-width="3.6"/>
<line x1="627.9" y1="2244.1" x2="663.9" y2="2244.1" stroke="#000" stroke-width="3.4"/>
<g fill="none" stroke="#7f7f7f" stroke-width="2.5">
<polyline points="538.6,2226.2 646.8,2253.8"/>
<polyline points="538.6,2242.5 646.8,2057.2"/>
<polyline points="538.6,2242.5 646.8,2237.5"/>
<polyline points="538.6,2249.3 646.8,2291.8"/>
<polyline points="538.6,2295.2 646.8,2281.1"/>
<polyline points="538.6,2319.2 646.8,2335.5"/>
<polyline points="538.6,2374.1 646.8,2368.5"/>
<polyline points="538.6,2394.6 646.8,2394.6"/>
</g>
<line x1="474.3" y1="1952.7" x2="474.3" y2="2398.9" stroke="#000" stroke-width="5"/>
<line x1="471.8" y1="2396.4" x2="702.5" y2="2396.4" stroke="#000" stroke-width="5"/>
<line x1="474.3" y1="1955.2" x2="485.6" y2="1955.2" stroke="#000" stroke-width="5"/>
<text x="466" y="1964.4" font-size="30.5" font-weight="bold" fill="#231815" text-anchor="end">80</text>
<line x1="474.3" y1="2065.5" x2="485.6" y2="2065.5" stroke="#000" stroke-width="5"/>
<text x="466" y="2074.7" font-size="30.5" font-weight="bold" fill="#231815" text-anchor="end">60</text>
<line x1="474.3" y1="2175.8" x2="485.6" y2="2175.8" stroke="#000" stroke-width="5"/>
<text x="466" y="2185" font-size="30.5" font-weight="bold" fill="#231815" text-anchor="end">40</text>
<line x1="474.3" y1="2286.1" x2="485.6" y2="2286.1" stroke="#000" stroke-width="5"/>
<text x="466" y="2295.3" font-size="30.5" font-weight="bold" fill="#231815" text-anchor="end">20</text>
<line x1="474.3" y1="2396.4" x2="485.6" y2="2396.4" stroke="#000" stroke-width="5"/>
<text x="466" y="2405.6" font-size="30.5" font-weight="bold" fill="#231815" text-anchor="end">0</text>
<circle cx="538.6" cy="2226.2" r="7.4" fill="#3e3839" stroke="#111" stroke-width="1.1"/>
<circle cx="646.8" cy="2253.8" r="7.4" fill="#3e3839" stroke="#111" stroke-width="1.1"/>
<circle cx="538.6" cy="2242.5" r="7.4" fill="#3e3839" stroke="#111" stroke-width="1.1"/>
<circle cx="646.8" cy="2057.2" r="7.4" fill="#3e3839" stroke="#111" stroke-width="1.1"/>
<circle cx="538.6" cy="2242.5" r="7.4" fill="#3e3839" stroke="#111" stroke-width="1.1"/>
<circle cx="646.8" cy="2237.5" r="7.4" fill="#3e3839" stroke="#111" stroke-width="1.1"/>
<circle cx="538.6" cy="2249.3" r="7.4" fill="#3e3839" stroke="#111" stroke-width="1.1"/>
<circle cx="646.8" cy="2291.8" r="7.4" fill="#3e3839" stroke="#111" stroke-width="1.1"/>
<circle cx="538.6" cy="2295.2" r="7.4" fill="#3e3839" stroke="#111" stroke-width="1.1"/>
<circle cx="646.8" cy="2281.1" r="7.4" fill="#3e3839" stroke="#111" stroke-width="1.1"/>
<circle cx="538.6" cy="2319.2" r="7.4" fill="#3e3839" stroke="#111" stroke-width="1.1"/>
<circle cx="646.8" cy="2335.5" r="7.4" fill="#3e3839" stroke="#111" stroke-width="1.1"/>
<circle cx="538.6" cy="2374.1" r="7.4" fill="#3e3839" stroke="#111" stroke-width="1.1"/>
<circle cx="646.8" cy="2368.5" r="7.4" fill="#3e3839" stroke="#111" stroke-width="1.1"/>
<circle cx="538.6" cy="2394.6" r="7.4" fill="#000" stroke="#111" stroke-width="1.1"/>
<circle cx="646.8" cy="2394.6" r="7.4" fill="#000" stroke="#111" stroke-width="1.1"/>
<text x="413" y="2249.74" font-size="37" font-weight="bold" fill="#231815" textLength="184.64" lengthAdjust="spacingAndGlyphs" transform="rotate(-90 413 2249.74)">Frequency</text>
<rect x="496" y="2406.1" width="193.9" height="40.6" fill="#a2c3e5"/>
<text x="567.49" y="2438.3" font-size="38" font-weight="bold" fill="#231815" textLength="37.52" lengthAdjust="spacingAndGlyphs">RI</text>
<text x="500.21" y="2482.3" font-size="37.3" font-weight="bold" fill="#231815" textLength="72.62" lengthAdjust="spacingAndGlyphs">OFF</text>
<text x="615.9" y="2482.3" font-size="37.3" font-weight="bold" fill="#d9261c" textLength="54.76" lengthAdjust="spacingAndGlyphs">ON</text>
<rect x="949.7" y="1940.3" width="95.4" height="554.2" fill="#f9d796"/>
<text x="755" y="1927.6" font-size="61" font-weight="bold" fill="#231815">l</text>
<text x="798.02" y="1926.8" font-size="40.5" font-weight="bold" fill="#000" textLength="187.37" lengthAdjust="spacingAndGlyphs">Sideways</text>
<rect x="855.3" y="2278.9" width="63.8" height="117.6" fill="#f7da00" stroke="#231815" stroke-width="2.4"/>
<rect x="965.2" y="2291.6" width="63.7" height="104.9" fill="#f7da00" stroke="#231815" stroke-width="2.4"/>
<line x1="887.2" y1="2277.7" x2="887.2" y2="2232.4" stroke="#000" stroke-width="3.6"/>
<line x1="869.6" y1="2234" x2="904.8" y2="2234" stroke="#000" stroke-width="3.4"/>
<line x1="997" y1="2290.4" x2="997" y2="2259.4" stroke="#000" stroke-width="3.6"/>
<line x1="979.4" y1="2261" x2="1014.6" y2="2261" stroke="#000" stroke-width="3.4"/>
<g fill="none" stroke="#7f7f7f" stroke-width="2.5">
<polyline points="885.9,2022.8 995.8,2136"/>
<polyline points="885.9,2172.1 995.8,2323.4"/>
<polyline points="885.9,2236 995.8,2293.8"/>
<polyline points="885.9,2285.4 995.8,2300.8"/>
<polyline points="885.9,2322.5 995.8,2175.5"/>
<polyline points="885.9,2374.1 995.8,2323.4"/>
<polyline points="885.9,2386.8 995.8,2350.1"/>
<polyline points="885.9,2395.2 995.8,2395.2"/>
</g>
<line x1="824.9" y1="1952.7" x2="824.9" y2="2399" stroke="#000" stroke-width="5"/>
<line x1="822.4" y1="2396.5" x2="1052.7" y2="2396.5" stroke="#000" stroke-width="5"/>
<line x1="824.9" y1="1955.2" x2="837.2" y2="1955.2" stroke="#000" stroke-width="5"/>
<text x="816.4" y="1964.4" font-size="30.5" font-weight="bold" fill="#231815" text-anchor="end">30</text>
<line x1="824.9" y1="2102.3" x2="837.2" y2="2102.3" stroke="#000" stroke-width="5"/>
<text x="816.4" y="2111.5" font-size="30.5" font-weight="bold" fill="#231815" text-anchor="end">20</text>
<line x1="824.9" y1="2249.4" x2="837.2" y2="2249.4" stroke="#000" stroke-width="5"/>
<text x="816.4" y="2258.6" font-size="30.5" font-weight="bold" fill="#231815" text-anchor="end">10</text>
<line x1="824.9" y1="2396.5" x2="837.2" y2="2396.5" stroke="#000" stroke-width="5"/>
<text x="816.4" y="2405.7" font-size="30.5" font-weight="bold" fill="#231815" text-anchor="end">0</text>
<circle cx="885.9" cy="2022.8" r="7.4" fill="#3e3839" stroke="#111" stroke-width="1.1"/>
<circle cx="995.8" cy="2136" r="7.4" fill="#3e3839" stroke="#111" stroke-width="1.1"/>
<circle cx="885.9" cy="2172.1" r="7.4" fill="#3e3839" stroke="#111" stroke-width="1.1"/>
<circle cx="995.8" cy="2323.4" r="7.4" fill="#3e3839" stroke="#111" stroke-width="1.1"/>
<circle cx="885.9" cy="2236" r="7.4" fill="#3e3839" stroke="#111" stroke-width="1.1"/>
<circle cx="995.8" cy="2293.8" r="7.4" fill="#3e3839" stroke="#111" stroke-width="1.1"/>
<circle cx="885.9" cy="2285.4" r="7.4" fill="#3e3839" stroke="#111" stroke-width="1.1"/>
<circle cx="995.8" cy="2300.8" r="7.4" fill="#3e3839" stroke="#111" stroke-width="1.1"/>
<circle cx="885.9" cy="2322.5" r="7.4" fill="#3e3839" stroke="#111" stroke-width="1.1"/>
<circle cx="995.8" cy="2175.5" r="7.4" fill="#3e3839" stroke="#111" stroke-width="1.1"/>
<circle cx="885.9" cy="2374.1" r="7.4" fill="#3e3839" stroke="#111" stroke-width="1.1"/>
<circle cx="995.8" cy="2323.4" r="7.4" fill="#3e3839" stroke="#111" stroke-width="1.1"/>
<circle cx="885.9" cy="2386.8" r="7.4" fill="#3e3839" stroke="#111" stroke-width="1.1"/>
<circle cx="995.8" cy="2350.1" r="7.4" fill="#3e3839" stroke="#111" stroke-width="1.1"/>
<circle cx="885.9" cy="2395.2" r="7.4" fill="#3e3839" stroke="#111" stroke-width="1.1"/>
<circle cx="995.8" cy="2395.2" r="7.4" fill="#3e3839" stroke="#111" stroke-width="1.1"/>
<text x="772" y="2249.75" font-size="37" font-weight="bold" fill="#231815" textLength="205.27" lengthAdjust="spacingAndGlyphs" transform="rotate(-90 772 2249.75)">Duration (s)</text>
<rect x="846.1" y="2407.7" width="194.3" height="40.8" fill="#a2c3e5"/>
<text x="918.09" y="2439.9" font-size="38" font-weight="bold" fill="#231815" textLength="37.52" lengthAdjust="spacingAndGlyphs">RI</text>
<text x="851.41" y="2483.6" font-size="37.3" font-weight="bold" fill="#231815" textLength="72.62" lengthAdjust="spacingAndGlyphs">OFF</text>
<text x="966.4" y="2483.6" font-size="37.3" font-weight="bold" fill="#d9261c" textLength="54.76" lengthAdjust="spacingAndGlyphs">ON</text>
<rect x="1294.4" y="1941.7" width="95.2" height="553.9" fill="#f9d796"/>
<text x="1078" y="1927.6" font-size="61" font-weight="bold" fill="#231815">m</text>
<text x="1155.24" y="1926.8" font-size="40.5" font-weight="bold" fill="#000" textLength="236.32" lengthAdjust="spacingAndGlyphs">Locomotion</text>
<rect x="1199.8" y="2163.2" width="64.1" height="234.3" fill="#f7da00" stroke="#231815" stroke-width="2.4"/>
<rect x="1309.7" y="2178.9" width="64" height="218.6" fill="#f7da00" stroke="#231815" stroke-width="2.4"/>
<line x1="1231.7" y1="2162" x2="1231.7" y2="2147.9" stroke="#000" stroke-width="3.6"/>
<line x1="1214.4" y1="2149.5" x2="1249" y2="2149.5" stroke="#000" stroke-width="3.4"/>
<line x1="1342.7" y1="2177.7" x2="1342.7" y2="2167" stroke="#000" stroke-width="3.6"/>
<line x1="1326.2" y1="2168.6" x2="1359.2" y2="2168.6" stroke="#000" stroke-width="3.4"/>
<g fill="none" stroke="#7f7f7f" stroke-width="2.5">
<polyline points="1231,2100.8 1340.8,2153"/>
<polyline points="1231,2102.8 1340.8,2178.3"/>
<polyline points="1231,2147.9 1340.8,2148.7"/>
<polyline points="1231,2162.8 1340.8,2153"/>
<polyline points="1231,2180.6 1340.8,2148.7"/>
<polyline points="1231,2183.9 1340.8,2175.5"/>
<polyline points="1231,2186.2 1340.8,2217.2"/>
<polyline points="1231,2203.1 1340.8,2221.1"/>
</g>
<line x1="1169.7" y1="1953.3" x2="1169.7" y2="2400" stroke="#000" stroke-width="5"/>
<line x1="1167.2" y1="2397.5" x2="1396.6" y2="2397.5" stroke="#000" stroke-width="5"/>
<line x1="1169.7" y1="1955.8" x2="1182.5" y2="1955.8" stroke="#000" stroke-width="5"/>
<text x="1161.6" y="1965" font-size="30.5" font-weight="bold" fill="#231815" text-anchor="end">150</text>
<line x1="1169.7" y1="2103" x2="1182.5" y2="2103" stroke="#000" stroke-width="5"/>
<text x="1161.6" y="2112.2" font-size="30.5" font-weight="bold" fill="#231815" text-anchor="end">100</text>
<line x1="1169.7" y1="2250.2" x2="1182.5" y2="2250.2" stroke="#000" stroke-width="5"/>
<text x="1161.6" y="2259.4" font-size="30.5" font-weight="bold" fill="#231815" text-anchor="end">50</text>
<line x1="1169.7" y1="2397.5" x2="1182.5" y2="2397.5" stroke="#000" stroke-width="5"/>
<text x="1161.6" y="2406.7" font-size="30.5" font-weight="bold" fill="#231815" text-anchor="end">0</text>
<circle cx="1231" cy="2100.8" r="7.4" fill="#3e3839" stroke="#111" stroke-width="1.1"/>
<circle cx="1340.8" cy="2153" r="7.4" fill="#3e3839" stroke="#111" stroke-width="1.1"/>
<circle cx="1231" cy="2102.8" r="7.4" fill="#3e3839" stroke="#111" stroke-width="1.1"/>
<circle cx="1340.8" cy="2178.3" r="7.4" fill="#3e3839" stroke="#111" stroke-width="1.1"/>
<circle cx="1231" cy="2147.9" r="7.4" fill="#3e3839" stroke="#111" stroke-width="1.1"/>
<circle cx="1340.8" cy="2148.7" r="7.4" fill="#3e3839" stroke="#111" stroke-width="1.1"/>
<circle cx="1231" cy="2162.8" r="7.4" fill="#3e3839" stroke="#111" stroke-width="1.1"/>
<circle cx="1340.8" cy="2153" r="7.4" fill="#3e3839" stroke="#111" stroke-width="1.1"/>
<circle cx="1231" cy="2180.6" r="7.4" fill="#3e3839" stroke="#111" stroke-width="1.1"/>
<circle cx="1340.8" cy="2148.7" r="7.4" fill="#3e3839" stroke="#111" stroke-width="1.1"/>
<circle cx="1231" cy="2183.9" r="7.4" fill="#3e3839" stroke="#111" stroke-width="1.1"/>
<circle cx="1340.8" cy="2175.5" r="7.4" fill="#3e3839" stroke="#111" stroke-width="1.1"/>
<circle cx="1231" cy="2186.2" r="7.4" fill="#3e3839" stroke="#111" stroke-width="1.1"/>
<circle cx="1340.8" cy="2217.2" r="7.4" fill="#3e3839" stroke="#111" stroke-width="1.1"/>
<circle cx="1231" cy="2203.1" r="7.4" fill="#3e3839" stroke="#111" stroke-width="1.1"/>
<circle cx="1340.8" cy="2221.1" r="7.4" fill="#3e3839" stroke="#111" stroke-width="1.1"/>
<text x="1100" y="2249.75" font-size="37" font-weight="bold" fill="#231815" textLength="205.27" lengthAdjust="spacingAndGlyphs" transform="rotate(-90 1100 2249.75)">Duration (s)</text>
<rect x="1190.8" y="2409.1" width="194.3" height="41" fill="#a2c3e5"/>
<text x="1262.09" y="2441" font-size="38" font-weight="bold" fill="#231815" textLength="37.52" lengthAdjust="spacingAndGlyphs">RI</text>
<text x="1195.41" y="2485" font-size="37.3" font-weight="bold" fill="#231815" textLength="72.62" lengthAdjust="spacingAndGlyphs">OFF</text>
<text x="1311.2" y="2485" font-size="37.3" font-weight="bold" fill="#d9261c" textLength="54.76" lengthAdjust="spacingAndGlyphs">ON</text>
<rect x="1643.1" y="1941.1" width="95.5" height="553.7" fill="#f9d796"/>
<text x="1432.5" y="1927.6" font-size="61" font-weight="bold" fill="#231815">n</text>
<text x="1488.92" y="1926.8" font-size="40.5" font-weight="bold" fill="#000" textLength="277.18" lengthAdjust="spacingAndGlyphs">Social contact</text>
<rect x="1549.7" y="2316.1" width="63.7" height="83.2" fill="#f7da00" stroke="#231815" stroke-width="2.4"/>
<rect x="1658.9" y="2328.2" width="63.8" height="71.1" fill="#f7da00" stroke="#231815" stroke-width="2.4"/>
<line x1="1581.4" y1="2314.9" x2="1581.4" y2="2276.3" stroke="#000" stroke-width="3.6"/>
<line x1="1564.2" y1="2277.9" x2="1598.6" y2="2277.9" stroke="#000" stroke-width="3.4"/>
<line x1="1691.5" y1="2327" x2="1691.5" y2="2307.3" stroke="#000" stroke-width="3.6"/>
<line x1="1674.5" y1="2308.9" x2="1708.5" y2="2308.9" stroke="#000" stroke-width="3.4"/>
<g fill="none" stroke="#7f7f7f" stroke-width="2.5">
<polyline points="1582.3,2058.6 1691.5,2272.7"/>
<polyline points="1582.3,2300.8 1691.5,2216.3"/>
<polyline points="1582.3,2305.6 1691.5,2307.9"/>
<polyline points="1582.3,2350.1 1691.5,2336.1"/>
<polyline points="1582.3,2354.4 1691.5,2344.5"/>
<polyline points="1582.3,2358 1691.5,2384"/>
<polyline points="1582.3,2367 1691.5,2350.1"/>
<polyline points="1582.3,2388.2 1691.5,2368.5"/>
</g>
<line x1="1518.6" y1="1954.1" x2="1518.6" y2="2401.8" stroke="#000" stroke-width="5"/>
<line x1="1516.1" y1="2399.3" x2="1746.5" y2="2399.3" stroke="#000" stroke-width="5"/>
<line x1="1518.6" y1="1956.6" x2="1530.1" y2="1956.6" stroke="#000" stroke-width="5"/>
<text x="1510.4" y="1965.8" font-size="30.5" font-weight="bold" fill="#231815" text-anchor="end">200</text>
<line x1="1518.6" y1="2067.3" x2="1530.1" y2="2067.3" stroke="#000" stroke-width="5"/>
<text x="1510.4" y="2076.5" font-size="30.5" font-weight="bold" fill="#231815" text-anchor="end">150</text>
<line x1="1518.6" y1="2178" x2="1530.1" y2="2178" stroke="#000" stroke-width="5"/>
<text x="1510.4" y="2187.2" font-size="30.5" font-weight="bold" fill="#231815" text-anchor="end">100</text>
<line x1="1518.6" y1="2288.6" x2="1530.1" y2="2288.6" stroke="#000" stroke-width="5"/>
<text x="1510.4" y="2297.8" font-size="30.5" font-weight="bold" fill="#231815" text-anchor="end">50</text>
<line x1="1518.6" y1="2399.3" x2="1530.1" y2="2399.3" stroke="#000" stroke-width="5"/>
<text x="1510.4" y="2408.5" font-size="30.5" font-weight="bold" fill="#231815" text-anchor="end">0</text>
<circle cx="1582.3" cy="2058.6" r="7.4" fill="#3e3839" stroke="#111" stroke-width="1.1"/>
<circle cx="1691.5" cy="2272.7" r="7.4" fill="#3e3839" stroke="#111" stroke-width="1.1"/>
<circle cx="1582.3" cy="2300.8" r="7.4" fill="#3e3839" stroke="#111" stroke-width="1.1"/>
<circle cx="1691.5" cy="2216.3" r="7.4" fill="#3e3839" stroke="#111" stroke-width="1.1"/>
<circle cx="1582.3" cy="2305.6" r="7.4" fill="#3e3839" stroke="#111" stroke-width="1.1"/>
<circle cx="1691.5" cy="2307.9" r="7.4" fill="#3e3839" stroke="#111" stroke-width="1.1"/>
<circle cx="1582.3" cy="2350.1" r="7.4" fill="#3e3839" stroke="#111" stroke-width="1.1"/>
<circle cx="1691.5" cy="2336.1" r="7.4" fill="#3e3839" stroke="#111" stroke-width="1.1"/>
<circle cx="1582.3" cy="2354.4" r="7.4" fill="#3e3839" stroke="#111" stroke-width="1.1"/>
<circle cx="1691.5" cy="2344.5" r="7.4" fill="#3e3839" stroke="#111" stroke-width="1.1"/>
<circle cx="1582.3" cy="2358" r="7.4" fill="#3e3839" stroke="#111" stroke-width="1.1"/>
<circle cx="1691.5" cy="2384" r="7.4" fill="#3e3839" stroke="#111" stroke-width="1.1"/>
<circle cx="1582.3" cy="2367" r="7.4" fill="#3e3839" stroke="#111" stroke-width="1.1"/>
<circle cx="1691.5" cy="2350.1" r="7.4" fill="#3e3839" stroke="#111" stroke-width="1.1"/>
<circle cx="1582.3" cy="2388.2" r="7.4" fill="#3e3839" stroke="#111" stroke-width="1.1"/>
<circle cx="1691.5" cy="2368.5" r="7.4" fill="#3e3839" stroke="#111" stroke-width="1.1"/>
<text x="1447" y="2249.74" font-size="37" font-weight="bold" fill="#231815" textLength="204.25" lengthAdjust="spacingAndGlyphs" transform="rotate(-90 1447 2249.74)">Duration (s)</text>
<rect x="1539.7" y="2407.9" width="194.5" height="40.8" fill="#a2c3e5"/>
<text x="1611.19" y="2439.9" font-size="38" font-weight="bold" fill="#231815" textLength="37.52" lengthAdjust="spacingAndGlyphs">RI</text>
<text x="1544.71" y="2483.9" font-size="37.3" font-weight="bold" fill="#231815" textLength="72.62" lengthAdjust="spacingAndGlyphs">OFF</text>
<text x="1660.1" y="2483.9" font-size="37.3" font-weight="bold" fill="#d9261c" textLength="54.76" lengthAdjust="spacingAndGlyphs">ON</text>
</svg></body></html>
